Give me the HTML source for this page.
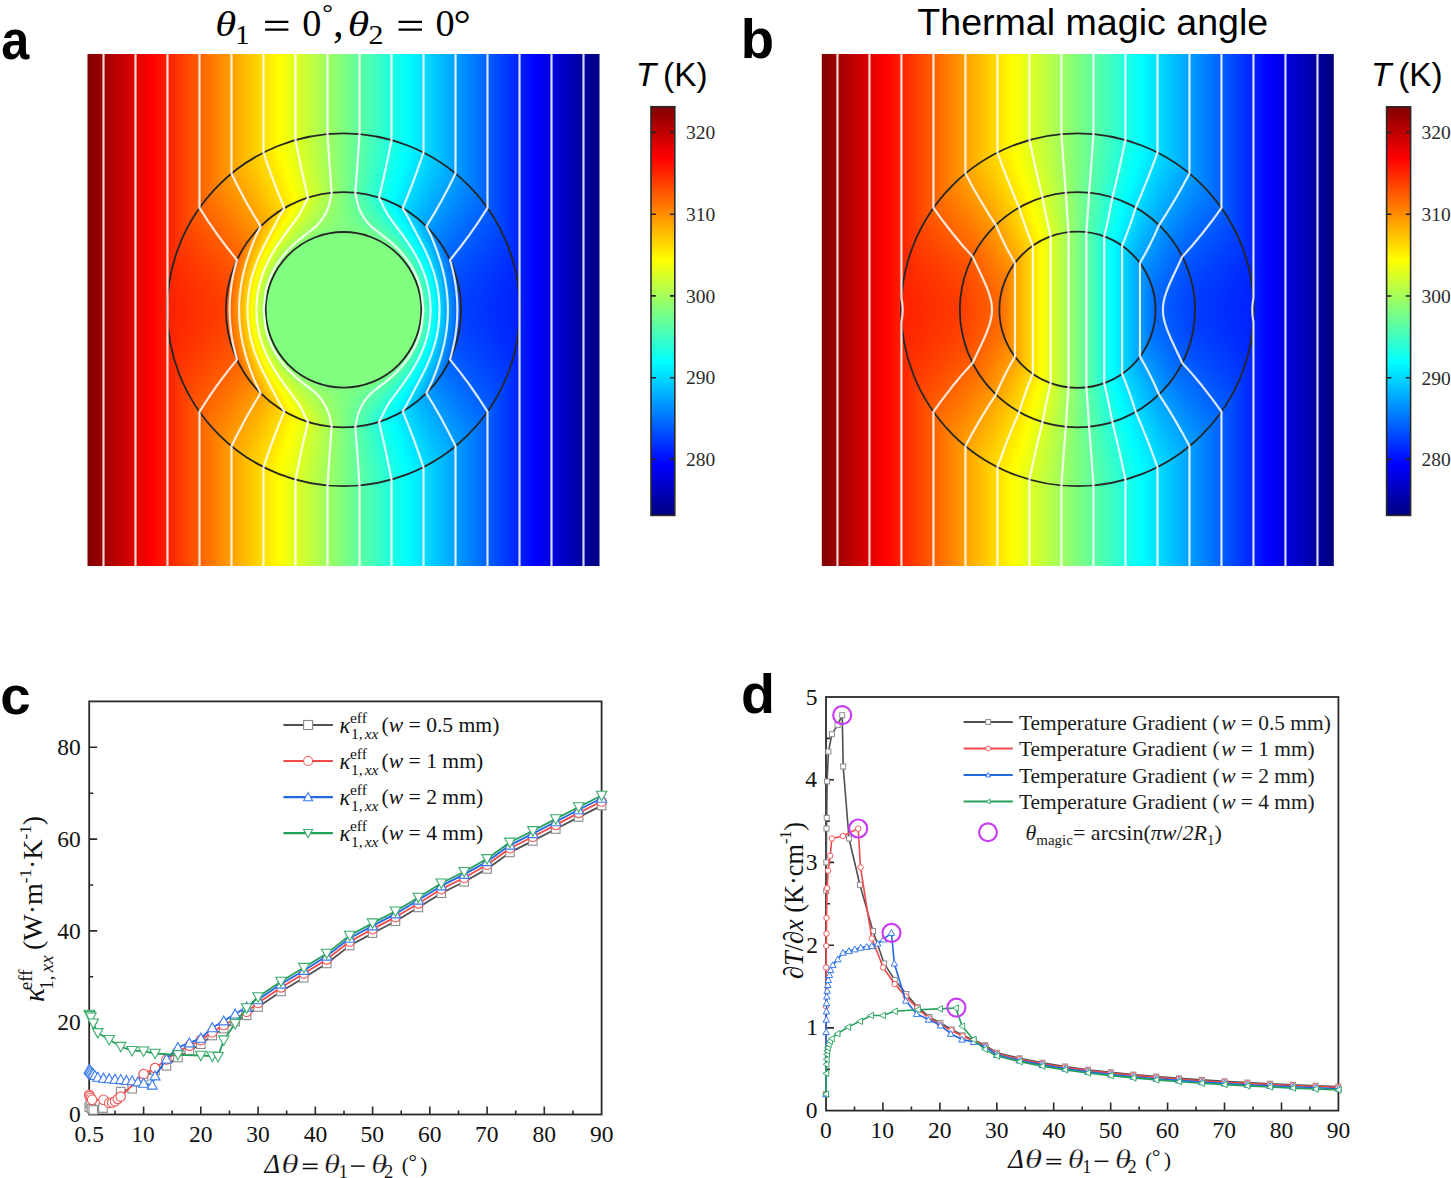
<!DOCTYPE html>
<html><head><meta charset="utf-8"><title>figure</title><style>
html,body{margin:0;padding:0;background:#fff;}
svg{display:block;}
</style></head>
<body><svg width="1451" height="1178" viewBox="0 0 1451 1178">
<defs><linearGradient id="Ja" gradientUnits="userSpaceOnUse" x1="87.5" y1="0" x2="599.5" y2="0"><stop offset="0" stop-color="#800000"/><stop offset="0.125" stop-color="#ff0000"/><stop offset="0.375" stop-color="#ffff00"/><stop offset="0.625" stop-color="#00ffff"/><stop offset="0.875" stop-color="#0000ff"/><stop offset="1" stop-color="#000080"/></linearGradient><linearGradient id="ga0" href="#Ja" x1="87.76" x2="599.24"/><linearGradient id="ga1" href="#Ja" x1="88.27" x2="598.73"/><linearGradient id="ga2" href="#Ja" x1="88.78" x2="598.22"/><linearGradient id="ga3" href="#Ja" x1="89.29" x2="597.71"/><linearGradient id="ga4" href="#Ja" x1="89.81" x2="597.19"/><linearGradient id="ga5" href="#Ja" x1="90.32" x2="596.68"/><linearGradient id="ga6" href="#Ja" x1="90.84" x2="596.16"/><linearGradient id="ga7" href="#Ja" x1="91.36" x2="595.64"/><linearGradient id="ga8" href="#Ja" x1="91.87" x2="595.13"/><linearGradient id="ga9" href="#Ja" x1="92.39" x2="594.61"/><linearGradient id="ga10" href="#Ja" x1="92.91" x2="594.09"/><linearGradient id="ga11" href="#Ja" x1="93.43" x2="593.57"/><linearGradient id="ga12" href="#Ja" x1="93.95" x2="593.05"/><linearGradient id="ga13" href="#Ja" x1="94.48" x2="592.52"/><linearGradient id="ga14" href="#Ja" x1="95.00" x2="592.00"/><linearGradient id="ga15" href="#Ja" x1="95.52" x2="591.48"/><linearGradient id="ga16" href="#Ja" x1="96.05" x2="590.95"/><linearGradient id="ga17" href="#Ja" x1="96.57" x2="590.43"/><linearGradient id="ga18" href="#Ja" x1="97.10" x2="589.90"/><linearGradient id="ga19" href="#Ja" x1="97.63" x2="589.37"/><linearGradient id="ga20" href="#Ja" x1="98.16" x2="588.84"/><linearGradient id="ga21" href="#Ja" x1="98.69" x2="588.31"/><linearGradient id="ga22" href="#Ja" x1="99.22" x2="587.78"/><linearGradient id="ga23" href="#Ja" x1="99.75" x2="587.25"/><linearGradient id="ga24" href="#Ja" x1="100.28" x2="586.72"/><linearGradient id="ga25" href="#Ja" x1="100.81" x2="586.19"/><linearGradient id="ga26" href="#Ja" x1="101.35" x2="585.65"/><linearGradient id="ga27" href="#Ja" x1="101.88" x2="585.12"/><linearGradient id="ga28" href="#Ja" x1="102.42" x2="584.58"/><linearGradient id="ga29" href="#Ja" x1="102.95" x2="584.05"/><linearGradient id="ga30" href="#Ja" x1="103.49" x2="583.51"/><linearGradient id="ga31" href="#Ja" x1="104.03" x2="582.97"/><linearGradient id="ga32" href="#Ja" x1="104.57" x2="582.43"/><linearGradient id="ga33" href="#Ja" x1="105.11" x2="581.89"/><linearGradient id="ga34" href="#Ja" x1="105.65" x2="581.35"/><linearGradient id="ga35" href="#Ja" x1="106.19" x2="580.81"/><linearGradient id="ga36" href="#Ja" x1="106.74" x2="580.26"/><linearGradient id="ga37" href="#Ja" x1="107.28" x2="579.72"/><linearGradient id="ga38" href="#Ja" x1="107.83" x2="579.17"/><linearGradient id="ga39" href="#Ja" x1="108.37" x2="578.63"/><linearGradient id="ga40" href="#Ja" x1="108.92" x2="578.08"/><linearGradient id="ga41" href="#Ja" x1="109.47" x2="577.53"/><linearGradient id="ga42" href="#Ja" x1="110.02" x2="576.98"/><linearGradient id="ga43" href="#Ja" x1="110.57" x2="576.43"/><linearGradient id="ga44" href="#Ja" x1="111.12" x2="575.88"/><linearGradient id="ga45" href="#Ja" x1="111.67" x2="575.33"/><linearGradient id="ga46" href="#Ja" x1="112.22" x2="574.78"/><linearGradient id="ga47" href="#Ja" x1="112.77" x2="574.23"/><linearGradient id="ga48" href="#Ja" x1="113.33" x2="573.67"/><linearGradient id="ga49" href="#Ja" x1="113.88" x2="573.12"/><linearGradient id="ga50" href="#Ja" x1="114.44" x2="572.56"/><linearGradient id="ga51" href="#Ja" x1="115.00" x2="572.00"/><linearGradient id="ga52" href="#Ja" x1="115.56" x2="571.44"/><linearGradient id="ga53" href="#Ja" x1="116.12" x2="570.88"/><linearGradient id="ga54" href="#Ja" x1="116.68" x2="570.32"/><linearGradient id="ga55" href="#Ja" x1="117.24" x2="569.76"/><linearGradient id="ga56" href="#Ja" x1="117.80" x2="569.20"/><linearGradient id="ga57" href="#Ja" x1="118.37" x2="568.63"/><linearGradient id="ga58" href="#Ja" x1="118.93" x2="568.07"/><linearGradient id="ga59" href="#Ja" x1="119.50" x2="567.50"/><linearGradient id="ga60" href="#Ja" x1="120.06" x2="566.94"/><linearGradient id="ga61" href="#Ja" x1="120.63" x2="566.37"/><linearGradient id="ga62" href="#Ja" x1="121.20" x2="565.80"/><linearGradient id="ga63" href="#Ja" x1="121.77" x2="565.23"/><linearGradient id="ga64" href="#Ja" x1="122.34" x2="564.66"/><linearGradient id="ga65" href="#Ja" x1="122.91" x2="564.09"/><linearGradient id="ga66" href="#Ja" x1="123.48" x2="563.52"/><linearGradient id="ga67" href="#Ja" x1="124.06" x2="562.94"/><linearGradient id="ga68" href="#Ja" x1="124.63" x2="562.37"/><linearGradient id="ga69" href="#Ja" x1="125.21" x2="561.79"/><linearGradient id="ga70" href="#Ja" x1="125.78" x2="561.22"/><linearGradient id="ga71" href="#Ja" x1="126.36" x2="560.64"/><linearGradient id="ga72" href="#Ja" x1="126.94" x2="560.06"/><linearGradient id="ga73" href="#Ja" x1="127.52" x2="559.48"/><linearGradient id="ga74" href="#Ja" x1="128.10" x2="558.90"/><linearGradient id="ga75" href="#Ja" x1="128.68" x2="558.32"/><linearGradient id="ga76" href="#Ja" x1="129.26" x2="557.74"/><linearGradient id="ga77" href="#Ja" x1="129.85" x2="557.15"/><linearGradient id="ga78" href="#Ja" x1="130.43" x2="556.57"/><linearGradient id="ga79" href="#Ja" x1="131.02" x2="555.98"/><linearGradient id="ga80" href="#Ja" x1="131.61" x2="555.39"/><linearGradient id="ga81" href="#Ja" x1="132.19" x2="554.81"/><linearGradient id="ga82" href="#Ja" x1="132.78" x2="554.22"/><linearGradient id="ga83" href="#Ja" x1="133.37" x2="553.63"/><linearGradient id="ga84" href="#Ja" x1="133.96" x2="553.04"/><linearGradient id="ga85" href="#Ja" x1="134.56" x2="552.44"/><linearGradient id="ga86" href="#Ja" x1="135.15" x2="551.85"/><linearGradient id="ga87" href="#Ja" x1="135.74" x2="551.26"/><linearGradient id="ga88" href="#Ja" x1="136.34" x2="550.66"/><linearGradient id="ga89" href="#Ja" x1="136.94" x2="550.06"/><linearGradient id="ga90" href="#Ja" x1="137.53" x2="549.47"/><linearGradient id="ga91" href="#Ja" x1="138.13" x2="548.87"/><linearGradient id="ga92" href="#Ja" x1="138.73" x2="548.27"/><linearGradient id="ga93" href="#Ja" x1="139.33" x2="547.67"/><linearGradient id="ga94" href="#Ja" x1="139.94" x2="547.06"/><linearGradient id="ga95" href="#Ja" x1="140.54" x2="546.46"/><linearGradient id="ga96" href="#Ja" x1="141.14" x2="545.86"/><linearGradient id="ga97" href="#Ja" x1="141.75" x2="545.25"/><linearGradient id="ga98" href="#Ja" x1="142.36" x2="544.64"/><linearGradient id="ga99" href="#Ja" x1="142.96" x2="544.04"/><linearGradient id="ga100" href="#Ja" x1="143.57" x2="543.43"/><linearGradient id="ga101" href="#Ja" x1="144.18" x2="542.82"/><linearGradient id="ga102" href="#Ja" x1="144.79" x2="542.21"/><linearGradient id="ga103" href="#Ja" x1="145.40" x2="541.60"/><linearGradient id="ga104" href="#Ja" x1="146.02" x2="540.98"/><linearGradient id="ga105" href="#Ja" x1="146.63" x2="540.37"/><linearGradient id="ga106" href="#Ja" x1="147.25" x2="539.75"/><linearGradient id="ga107" href="#Ja" x1="147.86" x2="539.14"/><linearGradient id="ga108" href="#Ja" x1="148.48" x2="538.52"/><linearGradient id="ga109" href="#Ja" x1="149.10" x2="537.90"/><linearGradient id="ga110" href="#Ja" x1="149.72" x2="537.28"/><linearGradient id="ga111" href="#Ja" x1="150.34" x2="536.66"/><linearGradient id="ga112" href="#Ja" x1="150.96" x2="536.04"/><linearGradient id="ga113" href="#Ja" x1="151.59" x2="535.41"/><linearGradient id="ga114" href="#Ja" x1="152.21" x2="534.79"/><linearGradient id="ga115" href="#Ja" x1="152.84" x2="534.16"/><linearGradient id="ga116" href="#Ja" x1="153.47" x2="533.53"/><linearGradient id="ga117" href="#Ja" x1="154.09" x2="532.91"/><linearGradient id="ga118" href="#Ja" x1="152.69" x2="534.31"/><linearGradient id="ga119" href="#Ja" x1="151.02" x2="535.98"/><linearGradient id="ga120" href="#Ja" x1="149.31" x2="537.69"/><linearGradient id="ga121" href="#Ja" x1="147.55" x2="539.45"/><linearGradient id="ga122" href="#Ja" x1="145.75" x2="541.25"/><linearGradient id="ga123" href="#Ja" x1="143.89" x2="543.11"/><linearGradient id="ga124" href="#Ja" x1="141.98" x2="545.02"/><linearGradient id="ga125" href="#Ja" x1="140.27" x2="546.73"/><linearGradient id="ga126" href="#Ja" x1="138.75" x2="548.25"/><linearGradient id="ga127" href="#Ja" x1="137.20" x2="549.80"/><linearGradient id="ga128" href="#Ja" x1="135.61" x2="551.39"/><linearGradient id="ga129" href="#Ja" x1="133.98" x2="553.02"/><linearGradient id="ga130" href="#Ja" x1="132.31" x2="554.69"/><linearGradient id="ga131" href="#Ja" x1="130.60" x2="556.40"/><linearGradient id="ga132" href="#Ja" x1="128.85" x2="558.15"/><linearGradient id="ga133" href="#Ja" x1="127.05" x2="559.95"/><linearGradient id="ga134" href="#Ja" x1="125.20" x2="561.80"/><linearGradient id="ga135" href="#Ja" x1="123.30" x2="563.70"/><linearGradient id="ga136" href="#Ja" x1="121.35" x2="565.65"/><linearGradient id="ga137" href="#Ja" x1="119.35" x2="567.65"/><linearGradient id="ga138" href="#Ja" x1="117.29" x2="569.71"/><linearGradient id="ga139" href="#Ja" x1="115.18" x2="571.82"/><linearGradient id="ga140" href="#Ja" x1="113.00" x2="574.00"/><linearGradient id="ga141" href="#Ja" x1="110.76" x2="576.24"/><linearGradient id="ga142" href="#Ja" x1="108.46" x2="578.54"/><linearGradient id="ga143" href="#Ja" x1="106.09" x2="580.91"/><linearGradient id="ga144" href="#Ja" x1="103.40" x2="583.60"/><linearGradient id="ga145" href="#Ja" x1="100.38" x2="586.62"/><linearGradient id="ga146" href="#Ja" x1="97.26" x2="589.74"/><linearGradient id="ga147" href="#Ja" x1="94.02" x2="592.98"/><linearGradient id="ga148" href="#Ja" x1="90.66" x2="596.34"/><linearGradient id="ga149" href="#Ja" x1="87.18" x2="599.82"/><linearGradient id="ga150" href="#Ja" x1="83.57" x2="603.43"/><linearGradient id="ga151" href="#Ja" x1="79.81" x2="607.19"/><linearGradient id="ga152" href="#Ja" x1="75.90" x2="611.10"/><linearGradient id="ga153" href="#Ja" x1="71.84" x2="615.16"/><linearGradient id="ga154" href="#Ja" x1="67.60" x2="619.40"/><linearGradient id="ga155" href="#Ja" x1="63.19" x2="623.81"/><linearGradient id="ga156" href="#Ja" x1="58.59" x2="628.41"/><linearGradient id="ga157" href="#Ja" x1="53.78" x2="633.22"/><linearGradient id="ga158" href="#Ja" x1="48.76" x2="638.24"/><linearGradient id="ga159" href="#Ja" x1="43.51" x2="643.49"/><linearGradient id="ga160" href="#Ja" x1="38.00" x2="649.00"/><linearGradient id="ga161" href="#Ja" x1="32.53" x2="654.47"/><linearGradient id="ga162" href="#Ja" x1="26.93" x2="660.07"/><linearGradient id="ga163" href="#Ja" x1="21.06" x2="665.94"/><linearGradient id="ga164" href="#Ja" x1="14.90" x2="672.10"/><linearGradient id="ga165" href="#Ja" x1="8.43" x2="678.57"/><linearGradient id="ga166" href="#Ja" x1="1.63" x2="685.37"/><linearGradient id="ga167" href="#Ja" x1="-5.53" x2="692.53"/><linearGradient id="ga168" href="#Ja" x1="-13.08" x2="700.08"/><linearGradient id="ga169" href="#Ja" x1="-21.05" x2="708.05"/><linearGradient id="ga170" href="#Ja" x1="-29.48" x2="716.48"/><linearGradient id="ga171" href="#Ja" x1="-38.41" x2="725.41"/><linearGradient id="ga172" href="#Ja" x1="-47.88" x2="734.88"/><linearGradient id="ga173" href="#Ja" x1="-57.95" x2="744.95"/><linearGradient id="ga174" href="#Ja" x1="-68.67" x2="755.67"/><linearGradient id="ga175" href="#Ja" x1="-80.12" x2="767.12"/><linearGradient id="ga176" href="#Ja" x1="-92.35" x2="779.35"/><linearGradient id="ga177" href="#Ja" x1="-105.47" x2="792.47"/><linearGradient id="ga178" href="#Ja" x1="-119.57" x2="806.57"/><linearGradient id="ga179" href="#Ja" x1="-138.73" x2="825.73"/><linearGradient id="ga180" href="#Ja" x1="-160.28" x2="847.28"/><linearGradient id="ga181" href="#Ja" x1="-184.14" x2="871.14"/><linearGradient id="ga182" href="#Ja" x1="-210.70" x2="897.70"/><linearGradient id="ga183" href="#Ja" x1="-240.43" x2="927.43"/><linearGradient id="ga184" href="#Ja" x1="-273.96" x2="960.96"/><linearGradient id="ga185" href="#Ja" x1="-312.04" x2="999.04"/><linearGradient id="ga186" href="#Ja" x1="-355.69" x2="1042.69"/><linearGradient id="ga187" href="#Ja" x1="-406.21" x2="1093.21"/><linearGradient id="ga188" href="#Ja" x1="-465.36" x2="1152.36"/><linearGradient id="ga189" href="#Ja" x1="-535.57" x2="1222.57"/><linearGradient id="ga190" href="#Ja" x1="-620.26" x2="1307.26"/><linearGradient id="ga191" href="#Ja" x1="-724.42" x2="1411.42"/><linearGradient id="ga192" href="#Ja" x1="-855.63" x2="1542.63"/><linearGradient id="ga193" href="#Ja" x1="-1103.12" x2="1790.12"/><linearGradient id="ga194" href="#Ja" x1="-1626.46" x2="2313.46"/><linearGradient id="ga195" href="#Ja" x1="-2765.49" x2="3452.49"/><linearGradient id="ga196" href="#Ja" x1="-7158.90" x2="7845.90"/><linearGradient id="ga197" href="#Ja" x1="-63656.50" x2="64343.50"/><linearGradient id="Jb" gradientUnits="userSpaceOnUse" x1="821.45" y1="0" x2="1333.45" y2="0"><stop offset="0" stop-color="#800000"/><stop offset="0.125" stop-color="#ff0000"/><stop offset="0.375" stop-color="#ffff00"/><stop offset="0.625" stop-color="#00ffff"/><stop offset="0.875" stop-color="#0000ff"/><stop offset="1" stop-color="#000080"/></linearGradient><linearGradient id="gb0" href="#Jb" x1="821.72" x2="1333.18"/><linearGradient id="gb1" href="#Jb" x1="822.26" x2="1332.64"/><linearGradient id="gb2" href="#Jb" x1="822.81" x2="1332.09"/><linearGradient id="gb3" href="#Jb" x1="823.35" x2="1331.55"/><linearGradient id="gb4" href="#Jb" x1="823.90" x2="1331.00"/><linearGradient id="gb5" href="#Jb" x1="824.44" x2="1330.46"/><linearGradient id="gb6" href="#Jb" x1="824.99" x2="1329.91"/><linearGradient id="gb7" href="#Jb" x1="825.54" x2="1329.36"/><linearGradient id="gb8" href="#Jb" x1="826.08" x2="1328.82"/><linearGradient id="gb9" href="#Jb" x1="826.63" x2="1328.27"/><linearGradient id="gb10" href="#Jb" x1="827.18" x2="1327.72"/><linearGradient id="gb11" href="#Jb" x1="827.73" x2="1327.17"/><linearGradient id="gb12" href="#Jb" x1="828.28" x2="1326.62"/><linearGradient id="gb13" href="#Jb" x1="828.84" x2="1326.06"/><linearGradient id="gb14" href="#Jb" x1="829.39" x2="1325.51"/><linearGradient id="gb15" href="#Jb" x1="829.94" x2="1324.96"/><linearGradient id="gb16" href="#Jb" x1="830.50" x2="1324.40"/><linearGradient id="gb17" href="#Jb" x1="831.05" x2="1323.85"/><linearGradient id="gb18" href="#Jb" x1="831.61" x2="1323.29"/><linearGradient id="gb19" href="#Jb" x1="832.16" x2="1322.74"/><linearGradient id="gb20" href="#Jb" x1="832.72" x2="1322.18"/><linearGradient id="gb21" href="#Jb" x1="833.28" x2="1321.62"/><linearGradient id="gb22" href="#Jb" x1="833.84" x2="1321.06"/><linearGradient id="gb23" href="#Jb" x1="834.40" x2="1320.50"/><linearGradient id="gb24" href="#Jb" x1="834.96" x2="1319.94"/><linearGradient id="gb25" href="#Jb" x1="835.52" x2="1319.38"/><linearGradient id="gb26" href="#Jb" x1="836.08" x2="1318.82"/><linearGradient id="gb27" href="#Jb" x1="836.65" x2="1318.25"/><linearGradient id="gb28" href="#Jb" x1="837.21" x2="1317.69"/><linearGradient id="gb29" href="#Jb" x1="837.78" x2="1317.12"/><linearGradient id="gb30" href="#Jb" x1="838.34" x2="1316.56"/><linearGradient id="gb31" href="#Jb" x1="838.91" x2="1315.99"/><linearGradient id="gb32" href="#Jb" x1="839.48" x2="1315.42"/><linearGradient id="gb33" href="#Jb" x1="840.05" x2="1314.85"/><linearGradient id="gb34" href="#Jb" x1="840.62" x2="1314.28"/><linearGradient id="gb35" href="#Jb" x1="841.19" x2="1313.71"/><linearGradient id="gb36" href="#Jb" x1="841.76" x2="1313.14"/><linearGradient id="gb37" href="#Jb" x1="842.33" x2="1312.57"/><linearGradient id="gb38" href="#Jb" x1="842.90" x2="1312.00"/><linearGradient id="gb39" href="#Jb" x1="843.47" x2="1311.43"/><linearGradient id="gb40" href="#Jb" x1="844.05" x2="1310.85"/><linearGradient id="gb41" href="#Jb" x1="844.62" x2="1310.28"/><linearGradient id="gb42" href="#Jb" x1="845.20" x2="1309.70"/><linearGradient id="gb43" href="#Jb" x1="845.78" x2="1309.12"/><linearGradient id="gb44" href="#Jb" x1="846.35" x2="1308.55"/><linearGradient id="gb45" href="#Jb" x1="846.93" x2="1307.97"/><linearGradient id="gb46" href="#Jb" x1="847.51" x2="1307.39"/><linearGradient id="gb47" href="#Jb" x1="848.09" x2="1306.81"/><linearGradient id="gb48" href="#Jb" x1="848.67" x2="1306.23"/><linearGradient id="gb49" href="#Jb" x1="849.26" x2="1305.64"/><linearGradient id="gb50" href="#Jb" x1="849.84" x2="1305.06"/><linearGradient id="gb51" href="#Jb" x1="850.42" x2="1304.48"/><linearGradient id="gb52" href="#Jb" x1="851.01" x2="1303.89"/><linearGradient id="gb53" href="#Jb" x1="851.59" x2="1303.31"/><linearGradient id="gb54" href="#Jb" x1="852.18" x2="1302.72"/><linearGradient id="gb55" href="#Jb" x1="852.77" x2="1302.13"/><linearGradient id="gb56" href="#Jb" x1="853.35" x2="1301.55"/><linearGradient id="gb57" href="#Jb" x1="853.94" x2="1300.96"/><linearGradient id="gb58" href="#Jb" x1="854.53" x2="1300.37"/><linearGradient id="gb59" href="#Jb" x1="855.12" x2="1299.78"/><linearGradient id="gb60" href="#Jb" x1="855.71" x2="1299.19"/><linearGradient id="gb61" href="#Jb" x1="856.31" x2="1298.59"/><linearGradient id="gb62" href="#Jb" x1="856.90" x2="1298.00"/><linearGradient id="gb63" href="#Jb" x1="857.50" x2="1297.40"/><linearGradient id="gb64" href="#Jb" x1="858.09" x2="1296.81"/><linearGradient id="gb65" href="#Jb" x1="858.69" x2="1296.21"/><linearGradient id="gb66" href="#Jb" x1="859.28" x2="1295.62"/><linearGradient id="gb67" href="#Jb" x1="859.88" x2="1295.02"/><linearGradient id="gb68" href="#Jb" x1="860.48" x2="1294.42"/><linearGradient id="gb69" href="#Jb" x1="861.08" x2="1293.82"/><linearGradient id="gb70" href="#Jb" x1="861.68" x2="1293.22"/><linearGradient id="gb71" href="#Jb" x1="862.28" x2="1292.62"/><linearGradient id="gb72" href="#Jb" x1="862.88" x2="1292.02"/><linearGradient id="gb73" href="#Jb" x1="863.49" x2="1291.41"/><linearGradient id="gb74" href="#Jb" x1="864.09" x2="1290.81"/><linearGradient id="gb75" href="#Jb" x1="864.70" x2="1290.20"/><linearGradient id="gb76" href="#Jb" x1="865.30" x2="1289.60"/><linearGradient id="gb77" href="#Jb" x1="865.91" x2="1288.99"/><linearGradient id="gb78" href="#Jb" x1="866.52" x2="1288.38"/><linearGradient id="gb79" href="#Jb" x1="867.13" x2="1287.77"/><linearGradient id="gb80" href="#Jb" x1="867.74" x2="1287.16"/><linearGradient id="gb81" href="#Jb" x1="868.35" x2="1286.55"/><linearGradient id="gb82" href="#Jb" x1="868.96" x2="1285.94"/><linearGradient id="gb83" href="#Jb" x1="869.57" x2="1285.33"/><linearGradient id="gb84" href="#Jb" x1="870.19" x2="1284.71"/><linearGradient id="gb85" href="#Jb" x1="870.80" x2="1284.10"/><linearGradient id="gb86" href="#Jb" x1="871.42" x2="1283.48"/><linearGradient id="gb87" href="#Jb" x1="872.03" x2="1282.87"/><linearGradient id="gb88" href="#Jb" x1="872.65" x2="1282.25"/><linearGradient id="gb89" href="#Jb" x1="873.27" x2="1281.63"/><linearGradient id="gb90" href="#Jb" x1="873.89" x2="1281.01"/><linearGradient id="gb91" href="#Jb" x1="874.51" x2="1280.39"/><linearGradient id="gb92" href="#Jb" x1="875.13" x2="1279.77"/><linearGradient id="gb93" href="#Jb" x1="875.75" x2="1279.15"/><linearGradient id="gb94" href="#Jb" x1="876.37" x2="1278.53"/><linearGradient id="gb95" href="#Jb" x1="877.00" x2="1277.90"/><linearGradient id="gb96" href="#Jb" x1="877.62" x2="1277.28"/><linearGradient id="gb97" href="#Jb" x1="878.25" x2="1276.65"/><linearGradient id="gb98" href="#Jb" x1="878.88" x2="1276.02"/><linearGradient id="gb99" href="#Jb" x1="879.50" x2="1275.40"/><linearGradient id="gb100" href="#Jb" x1="880.13" x2="1274.77"/><linearGradient id="gb101" href="#Jb" x1="880.76" x2="1274.14"/><linearGradient id="gb102" href="#Jb" x1="881.39" x2="1273.51"/><linearGradient id="gb103" href="#Jb" x1="882.02" x2="1272.88"/><linearGradient id="gb104" href="#Jb" x1="882.66" x2="1272.24"/><linearGradient id="gb105" href="#Jb" x1="883.29" x2="1271.61"/><linearGradient id="gb106" href="#Jb" x1="883.93" x2="1270.97"/><linearGradient id="gb107" href="#Jb" x1="884.56" x2="1270.34"/><linearGradient id="gb108" href="#Jb" x1="885.20" x2="1269.70"/><linearGradient id="gb109" href="#Jb" x1="885.84" x2="1269.06"/><linearGradient id="gb110" href="#Jb" x1="886.47" x2="1268.43"/><linearGradient id="gb111" href="#Jb" x1="887.11" x2="1267.79"/><linearGradient id="gb112" href="#Jb" x1="887.75" x2="1267.15"/><linearGradient id="gb113" href="#Jb" x1="888.40" x2="1266.50"/><linearGradient id="gb114" href="#Jb" x1="889.04" x2="1265.86"/><linearGradient id="gb115" href="#Jb" x1="889.68" x2="1265.22"/><linearGradient id="gb116" href="#Jb" x1="890.33" x2="1264.57"/><linearGradient id="gb117" href="#Jb" x1="890.97" x2="1263.93"/><linearGradient id="gb118" href="#Jb" x1="891.47" x2="1263.43"/><linearGradient id="gb119" href="#Jb" x1="891.95" x2="1262.95"/><linearGradient id="gb120" href="#Jb" x1="892.43" x2="1262.47"/><linearGradient id="gb121" href="#Jb" x1="892.92" x2="1261.98"/><linearGradient id="gb122" href="#Jb" x1="893.40" x2="1261.50"/><linearGradient id="gb123" href="#Jb" x1="893.89" x2="1261.01"/><linearGradient id="gb124" href="#Jb" x1="894.38" x2="1260.52"/><linearGradient id="gb125" href="#Jb" x1="894.87" x2="1260.03"/><linearGradient id="gb126" href="#Jb" x1="895.36" x2="1259.54"/><linearGradient id="gb127" href="#Jb" x1="895.85" x2="1259.05"/><linearGradient id="gb128" href="#Jb" x1="896.35" x2="1258.55"/><linearGradient id="gb129" href="#Jb" x1="896.85" x2="1258.05"/><linearGradient id="gb130" href="#Jb" x1="897.35" x2="1257.55"/><linearGradient id="gb131" href="#Jb" x1="897.85" x2="1257.05"/><linearGradient id="gb132" href="#Jb" x1="898.35" x2="1256.55"/><linearGradient id="gb133" href="#Jb" x1="898.85" x2="1256.05"/><linearGradient id="gb134" href="#Jb" x1="899.36" x2="1255.54"/><linearGradient id="gb135" href="#Jb" x1="899.87" x2="1255.03"/><linearGradient id="gb136" href="#Jb" x1="900.38" x2="1254.52"/><linearGradient id="gb137" href="#Jb" x1="900.89" x2="1254.01"/><linearGradient id="gb138" href="#Jb" x1="901.40" x2="1253.50"/><linearGradient id="gb139" href="#Jb" x1="901.92" x2="1252.98"/><linearGradient id="gb140" href="#Jb" x1="902.43" x2="1252.47"/><linearGradient id="gb141" href="#Jb" x1="902.95" x2="1251.95"/><linearGradient id="gb142" href="#Jb" x1="903.47" x2="1251.43"/><linearGradient id="gb143" href="#Jb" x1="903.99" x2="1250.91"/><linearGradient id="gb144" href="#Jb" x1="904.52" x2="1250.38"/><linearGradient id="gb145" href="#Jb" x1="905.04" x2="1249.86"/><linearGradient id="gb146" href="#Jb" x1="905.57" x2="1249.33"/><linearGradient id="gb147" href="#Jb" x1="906.10" x2="1248.80"/><linearGradient id="gb148" href="#Jb" x1="906.63" x2="1248.27"/><linearGradient id="gb149" href="#Jb" x1="907.17" x2="1247.73"/><linearGradient id="gb150" href="#Jb" x1="907.70" x2="1247.20"/><linearGradient id="gb151" href="#Jb" x1="908.24" x2="1246.66"/><linearGradient id="gb152" href="#Jb" x1="908.78" x2="1246.12"/><linearGradient id="gb153" href="#Jb" x1="909.32" x2="1245.58"/><linearGradient id="gb154" href="#Jb" x1="909.86" x2="1245.04"/><linearGradient id="gb155" href="#Jb" x1="910.41" x2="1244.49"/><linearGradient id="gb156" href="#Jb" x1="910.95" x2="1243.95"/><linearGradient id="gb157" href="#Jb" x1="911.50" x2="1243.40"/><linearGradient id="gb158" href="#Jb" x1="912.05" x2="1242.85"/><linearGradient id="gb159" href="#Jb" x1="912.61" x2="1242.29"/><linearGradient id="gb160" href="#Jb" x1="913.16" x2="1241.74"/><linearGradient id="gb161" href="#Jb" x1="913.72" x2="1241.18"/><linearGradient id="gb162" href="#Jb" x1="914.28" x2="1240.62"/><linearGradient id="gb163" href="#Jb" x1="914.84" x2="1240.06"/><linearGradient id="gb164" href="#Jb" x1="915.40" x2="1239.50"/><linearGradient id="gb165" href="#Jb" x1="915.97" x2="1238.93"/><linearGradient id="gb166" href="#Jb" x1="916.53" x2="1238.37"/><linearGradient id="gb167" href="#Jb" x1="917.10" x2="1237.80"/><linearGradient id="gb168" href="#Jb" x1="917.67" x2="1237.23"/><linearGradient id="gb169" href="#Jb" x1="918.25" x2="1236.65"/><linearGradient id="gb170" href="#Jb" x1="918.82" x2="1236.08"/><linearGradient id="gb171" href="#Jb" x1="919.40" x2="1235.50"/><linearGradient id="gb172" href="#Jb" x1="919.98" x2="1234.92"/><linearGradient id="gb173" href="#Jb" x1="920.56" x2="1234.34"/><linearGradient id="gb174" href="#Jb" x1="921.15" x2="1233.75"/><linearGradient id="gb175" href="#Jb" x1="921.73" x2="1233.17"/><linearGradient id="gb176" href="#Jb" x1="922.32" x2="1232.58"/><linearGradient id="gb177" href="#Jb" x1="922.91" x2="1231.99"/><linearGradient id="gb178" href="#Jb" x1="923.51" x2="1231.39"/><linearGradient id="gb179" href="#Jb" x1="924.10" x2="1230.80"/><linearGradient id="gb180" href="#Jb" x1="924.70" x2="1230.20"/><linearGradient id="gb181" href="#Jb" x1="925.30" x2="1229.60"/><linearGradient id="gb182" href="#Jb" x1="925.90" x2="1229.00"/><linearGradient id="gb183" href="#Jb" x1="926.51" x2="1228.39"/><linearGradient id="gb184" href="#Jb" x1="927.11" x2="1227.79"/><linearGradient id="gb185" href="#Jb" x1="927.72" x2="1227.18"/><linearGradient id="gb186" href="#Jb" x1="928.33" x2="1226.57"/><linearGradient id="gb187" href="#Jb" x1="928.95" x2="1225.95"/><linearGradient id="gb188" href="#Jb" x1="929.56" x2="1225.34"/><linearGradient id="gb189" href="#Jb" x1="930.18" x2="1224.72"/><linearGradient id="gb190" href="#Jb" x1="930.80" x2="1224.10"/><linearGradient id="gb191" href="#Jb" x1="931.42" x2="1223.48"/><linearGradient id="gb192" href="#Jb" x1="932.05" x2="1222.85"/><linearGradient id="gb193" href="#Jb" x1="932.68" x2="1222.22"/><linearGradient id="gb194" href="#Jb" x1="933.31" x2="1221.59"/><linearGradient id="gb195" href="#Jb" x1="933.94" x2="1220.96"/><linearGradient id="gb196" href="#Jb" x1="934.57" x2="1220.33"/><linearGradient id="gbin" href="#Jb" x1="934.64" x2="1220.26"/><linearGradient id="cba" x1="0" y1="0" x2="0" y2="1"><stop offset="0" stop-color="#800000"/><stop offset="0.125" stop-color="#ff0000"/><stop offset="0.375" stop-color="#ffff00"/><stop offset="0.625" stop-color="#00ffff"/><stop offset="0.875" stop-color="#0000ff"/><stop offset="1" stop-color="#000080"/></linearGradient><linearGradient id="cbb" x1="0" y1="0" x2="0" y2="1"><stop offset="0" stop-color="#800000"/><stop offset="0.125" stop-color="#ff0000"/><stop offset="0.375" stop-color="#ffff00"/><stop offset="0.625" stop-color="#00ffff"/><stop offset="0.875" stop-color="#0000ff"/><stop offset="1" stop-color="#000080"/></linearGradient></defs>
<rect width="1451" height="1178" fill="#fff"/>
<rect x="87.5" y="54" width="512" height="512" fill="url(#Ja)"/>
<circle cx="343.5" cy="309.8" r="176.40" fill="url(#ga0)"/>
<circle cx="343.5" cy="309.8" r="175.90" fill="url(#ga1)"/>
<circle cx="343.5" cy="309.8" r="175.40" fill="url(#ga2)"/>
<circle cx="343.5" cy="309.8" r="174.90" fill="url(#ga3)"/>
<circle cx="343.5" cy="309.8" r="174.40" fill="url(#ga4)"/>
<circle cx="343.5" cy="309.8" r="173.90" fill="url(#ga5)"/>
<circle cx="343.5" cy="309.8" r="173.40" fill="url(#ga6)"/>
<circle cx="343.5" cy="309.8" r="172.90" fill="url(#ga7)"/>
<circle cx="343.5" cy="309.8" r="172.40" fill="url(#ga8)"/>
<circle cx="343.5" cy="309.8" r="171.90" fill="url(#ga9)"/>
<circle cx="343.5" cy="309.8" r="171.40" fill="url(#ga10)"/>
<circle cx="343.5" cy="309.8" r="170.90" fill="url(#ga11)"/>
<circle cx="343.5" cy="309.8" r="170.40" fill="url(#ga12)"/>
<circle cx="343.5" cy="309.8" r="169.90" fill="url(#ga13)"/>
<circle cx="343.5" cy="309.8" r="169.40" fill="url(#ga14)"/>
<circle cx="343.5" cy="309.8" r="168.90" fill="url(#ga15)"/>
<circle cx="343.5" cy="309.8" r="168.40" fill="url(#ga16)"/>
<circle cx="343.5" cy="309.8" r="167.90" fill="url(#ga17)"/>
<circle cx="343.5" cy="309.8" r="167.40" fill="url(#ga18)"/>
<circle cx="343.5" cy="309.8" r="166.90" fill="url(#ga19)"/>
<circle cx="343.5" cy="309.8" r="166.40" fill="url(#ga20)"/>
<circle cx="343.5" cy="309.8" r="165.90" fill="url(#ga21)"/>
<circle cx="343.5" cy="309.8" r="165.40" fill="url(#ga22)"/>
<circle cx="343.5" cy="309.8" r="164.90" fill="url(#ga23)"/>
<circle cx="343.5" cy="309.8" r="164.40" fill="url(#ga24)"/>
<circle cx="343.5" cy="309.8" r="163.90" fill="url(#ga25)"/>
<circle cx="343.5" cy="309.8" r="163.40" fill="url(#ga26)"/>
<circle cx="343.5" cy="309.8" r="162.90" fill="url(#ga27)"/>
<circle cx="343.5" cy="309.8" r="162.40" fill="url(#ga28)"/>
<circle cx="343.5" cy="309.8" r="161.90" fill="url(#ga29)"/>
<circle cx="343.5" cy="309.8" r="161.40" fill="url(#ga30)"/>
<circle cx="343.5" cy="309.8" r="160.90" fill="url(#ga31)"/>
<circle cx="343.5" cy="309.8" r="160.40" fill="url(#ga32)"/>
<circle cx="343.5" cy="309.8" r="159.90" fill="url(#ga33)"/>
<circle cx="343.5" cy="309.8" r="159.40" fill="url(#ga34)"/>
<circle cx="343.5" cy="309.8" r="158.90" fill="url(#ga35)"/>
<circle cx="343.5" cy="309.8" r="158.40" fill="url(#ga36)"/>
<circle cx="343.5" cy="309.8" r="157.90" fill="url(#ga37)"/>
<circle cx="343.5" cy="309.8" r="157.40" fill="url(#ga38)"/>
<circle cx="343.5" cy="309.8" r="156.90" fill="url(#ga39)"/>
<circle cx="343.5" cy="309.8" r="156.40" fill="url(#ga40)"/>
<circle cx="343.5" cy="309.8" r="155.90" fill="url(#ga41)"/>
<circle cx="343.5" cy="309.8" r="155.40" fill="url(#ga42)"/>
<circle cx="343.5" cy="309.8" r="154.90" fill="url(#ga43)"/>
<circle cx="343.5" cy="309.8" r="154.40" fill="url(#ga44)"/>
<circle cx="343.5" cy="309.8" r="153.90" fill="url(#ga45)"/>
<circle cx="343.5" cy="309.8" r="153.40" fill="url(#ga46)"/>
<circle cx="343.5" cy="309.8" r="152.90" fill="url(#ga47)"/>
<circle cx="343.5" cy="309.8" r="152.40" fill="url(#ga48)"/>
<circle cx="343.5" cy="309.8" r="151.90" fill="url(#ga49)"/>
<circle cx="343.5" cy="309.8" r="151.40" fill="url(#ga50)"/>
<circle cx="343.5" cy="309.8" r="150.90" fill="url(#ga51)"/>
<circle cx="343.5" cy="309.8" r="150.40" fill="url(#ga52)"/>
<circle cx="343.5" cy="309.8" r="149.90" fill="url(#ga53)"/>
<circle cx="343.5" cy="309.8" r="149.40" fill="url(#ga54)"/>
<circle cx="343.5" cy="309.8" r="148.90" fill="url(#ga55)"/>
<circle cx="343.5" cy="309.8" r="148.40" fill="url(#ga56)"/>
<circle cx="343.5" cy="309.8" r="147.90" fill="url(#ga57)"/>
<circle cx="343.5" cy="309.8" r="147.40" fill="url(#ga58)"/>
<circle cx="343.5" cy="309.8" r="146.90" fill="url(#ga59)"/>
<circle cx="343.5" cy="309.8" r="146.40" fill="url(#ga60)"/>
<circle cx="343.5" cy="309.8" r="145.90" fill="url(#ga61)"/>
<circle cx="343.5" cy="309.8" r="145.40" fill="url(#ga62)"/>
<circle cx="343.5" cy="309.8" r="144.90" fill="url(#ga63)"/>
<circle cx="343.5" cy="309.8" r="144.40" fill="url(#ga64)"/>
<circle cx="343.5" cy="309.8" r="143.90" fill="url(#ga65)"/>
<circle cx="343.5" cy="309.8" r="143.40" fill="url(#ga66)"/>
<circle cx="343.5" cy="309.8" r="142.90" fill="url(#ga67)"/>
<circle cx="343.5" cy="309.8" r="142.40" fill="url(#ga68)"/>
<circle cx="343.5" cy="309.8" r="141.90" fill="url(#ga69)"/>
<circle cx="343.5" cy="309.8" r="141.40" fill="url(#ga70)"/>
<circle cx="343.5" cy="309.8" r="140.90" fill="url(#ga71)"/>
<circle cx="343.5" cy="309.8" r="140.40" fill="url(#ga72)"/>
<circle cx="343.5" cy="309.8" r="139.90" fill="url(#ga73)"/>
<circle cx="343.5" cy="309.8" r="139.40" fill="url(#ga74)"/>
<circle cx="343.5" cy="309.8" r="138.90" fill="url(#ga75)"/>
<circle cx="343.5" cy="309.8" r="138.40" fill="url(#ga76)"/>
<circle cx="343.5" cy="309.8" r="137.90" fill="url(#ga77)"/>
<circle cx="343.5" cy="309.8" r="137.40" fill="url(#ga78)"/>
<circle cx="343.5" cy="309.8" r="136.90" fill="url(#ga79)"/>
<circle cx="343.5" cy="309.8" r="136.40" fill="url(#ga80)"/>
<circle cx="343.5" cy="309.8" r="135.90" fill="url(#ga81)"/>
<circle cx="343.5" cy="309.8" r="135.40" fill="url(#ga82)"/>
<circle cx="343.5" cy="309.8" r="134.90" fill="url(#ga83)"/>
<circle cx="343.5" cy="309.8" r="134.40" fill="url(#ga84)"/>
<circle cx="343.5" cy="309.8" r="133.90" fill="url(#ga85)"/>
<circle cx="343.5" cy="309.8" r="133.40" fill="url(#ga86)"/>
<circle cx="343.5" cy="309.8" r="132.90" fill="url(#ga87)"/>
<circle cx="343.5" cy="309.8" r="132.40" fill="url(#ga88)"/>
<circle cx="343.5" cy="309.8" r="131.90" fill="url(#ga89)"/>
<circle cx="343.5" cy="309.8" r="131.40" fill="url(#ga90)"/>
<circle cx="343.5" cy="309.8" r="130.90" fill="url(#ga91)"/>
<circle cx="343.5" cy="309.8" r="130.40" fill="url(#ga92)"/>
<circle cx="343.5" cy="309.8" r="129.90" fill="url(#ga93)"/>
<circle cx="343.5" cy="309.8" r="129.40" fill="url(#ga94)"/>
<circle cx="343.5" cy="309.8" r="128.90" fill="url(#ga95)"/>
<circle cx="343.5" cy="309.8" r="128.40" fill="url(#ga96)"/>
<circle cx="343.5" cy="309.8" r="127.90" fill="url(#ga97)"/>
<circle cx="343.5" cy="309.8" r="127.40" fill="url(#ga98)"/>
<circle cx="343.5" cy="309.8" r="126.90" fill="url(#ga99)"/>
<circle cx="343.5" cy="309.8" r="126.40" fill="url(#ga100)"/>
<circle cx="343.5" cy="309.8" r="125.90" fill="url(#ga101)"/>
<circle cx="343.5" cy="309.8" r="125.40" fill="url(#ga102)"/>
<circle cx="343.5" cy="309.8" r="124.90" fill="url(#ga103)"/>
<circle cx="343.5" cy="309.8" r="124.40" fill="url(#ga104)"/>
<circle cx="343.5" cy="309.8" r="123.90" fill="url(#ga105)"/>
<circle cx="343.5" cy="309.8" r="123.40" fill="url(#ga106)"/>
<circle cx="343.5" cy="309.8" r="122.90" fill="url(#ga107)"/>
<circle cx="343.5" cy="309.8" r="122.40" fill="url(#ga108)"/>
<circle cx="343.5" cy="309.8" r="121.90" fill="url(#ga109)"/>
<circle cx="343.5" cy="309.8" r="121.40" fill="url(#ga110)"/>
<circle cx="343.5" cy="309.8" r="120.90" fill="url(#ga111)"/>
<circle cx="343.5" cy="309.8" r="120.40" fill="url(#ga112)"/>
<circle cx="343.5" cy="309.8" r="119.90" fill="url(#ga113)"/>
<circle cx="343.5" cy="309.8" r="119.40" fill="url(#ga114)"/>
<circle cx="343.5" cy="309.8" r="118.90" fill="url(#ga115)"/>
<circle cx="343.5" cy="309.8" r="118.40" fill="url(#ga116)"/>
<circle cx="343.5" cy="309.8" r="117.90" fill="url(#ga117)"/>
<circle cx="343.5" cy="309.8" r="117.40" fill="url(#ga118)"/>
<circle cx="343.5" cy="309.8" r="116.90" fill="url(#ga119)"/>
<circle cx="343.5" cy="309.8" r="116.40" fill="url(#ga120)"/>
<circle cx="343.5" cy="309.8" r="115.90" fill="url(#ga121)"/>
<circle cx="343.5" cy="309.8" r="115.40" fill="url(#ga122)"/>
<circle cx="343.5" cy="309.8" r="114.90" fill="url(#ga123)"/>
<circle cx="343.5" cy="309.8" r="114.40" fill="url(#ga124)"/>
<circle cx="343.5" cy="309.8" r="113.90" fill="url(#ga125)"/>
<circle cx="343.5" cy="309.8" r="113.40" fill="url(#ga126)"/>
<circle cx="343.5" cy="309.8" r="112.90" fill="url(#ga127)"/>
<circle cx="343.5" cy="309.8" r="112.40" fill="url(#ga128)"/>
<circle cx="343.5" cy="309.8" r="111.90" fill="url(#ga129)"/>
<circle cx="343.5" cy="309.8" r="111.40" fill="url(#ga130)"/>
<circle cx="343.5" cy="309.8" r="110.90" fill="url(#ga131)"/>
<circle cx="343.5" cy="309.8" r="110.40" fill="url(#ga132)"/>
<circle cx="343.5" cy="309.8" r="109.90" fill="url(#ga133)"/>
<circle cx="343.5" cy="309.8" r="109.40" fill="url(#ga134)"/>
<circle cx="343.5" cy="309.8" r="108.90" fill="url(#ga135)"/>
<circle cx="343.5" cy="309.8" r="108.40" fill="url(#ga136)"/>
<circle cx="343.5" cy="309.8" r="107.90" fill="url(#ga137)"/>
<circle cx="343.5" cy="309.8" r="107.40" fill="url(#ga138)"/>
<circle cx="343.5" cy="309.8" r="106.90" fill="url(#ga139)"/>
<circle cx="343.5" cy="309.8" r="106.40" fill="url(#ga140)"/>
<circle cx="343.5" cy="309.8" r="105.90" fill="url(#ga141)"/>
<circle cx="343.5" cy="309.8" r="105.40" fill="url(#ga142)"/>
<circle cx="343.5" cy="309.8" r="104.90" fill="url(#ga143)"/>
<circle cx="343.5" cy="309.8" r="104.40" fill="url(#ga144)"/>
<circle cx="343.5" cy="309.8" r="103.90" fill="url(#ga145)"/>
<circle cx="343.5" cy="309.8" r="103.40" fill="url(#ga146)"/>
<circle cx="343.5" cy="309.8" r="102.90" fill="url(#ga147)"/>
<circle cx="343.5" cy="309.8" r="102.40" fill="url(#ga148)"/>
<circle cx="343.5" cy="309.8" r="101.90" fill="url(#ga149)"/>
<circle cx="343.5" cy="309.8" r="101.40" fill="url(#ga150)"/>
<circle cx="343.5" cy="309.8" r="100.90" fill="url(#ga151)"/>
<circle cx="343.5" cy="309.8" r="100.40" fill="url(#ga152)"/>
<circle cx="343.5" cy="309.8" r="99.90" fill="url(#ga153)"/>
<circle cx="343.5" cy="309.8" r="99.40" fill="url(#ga154)"/>
<circle cx="343.5" cy="309.8" r="98.90" fill="url(#ga155)"/>
<circle cx="343.5" cy="309.8" r="98.40" fill="url(#ga156)"/>
<circle cx="343.5" cy="309.8" r="97.90" fill="url(#ga157)"/>
<circle cx="343.5" cy="309.8" r="97.40" fill="url(#ga158)"/>
<circle cx="343.5" cy="309.8" r="96.90" fill="url(#ga159)"/>
<circle cx="343.5" cy="309.8" r="96.40" fill="url(#ga160)"/>
<circle cx="343.5" cy="309.8" r="95.90" fill="url(#ga161)"/>
<circle cx="343.5" cy="309.8" r="95.40" fill="url(#ga162)"/>
<circle cx="343.5" cy="309.8" r="94.90" fill="url(#ga163)"/>
<circle cx="343.5" cy="309.8" r="94.40" fill="url(#ga164)"/>
<circle cx="343.5" cy="309.8" r="93.90" fill="url(#ga165)"/>
<circle cx="343.5" cy="309.8" r="93.40" fill="url(#ga166)"/>
<circle cx="343.5" cy="309.8" r="92.90" fill="url(#ga167)"/>
<circle cx="343.5" cy="309.8" r="92.40" fill="url(#ga168)"/>
<circle cx="343.5" cy="309.8" r="91.90" fill="url(#ga169)"/>
<circle cx="343.5" cy="309.8" r="91.40" fill="url(#ga170)"/>
<circle cx="343.5" cy="309.8" r="90.90" fill="url(#ga171)"/>
<circle cx="343.5" cy="309.8" r="90.40" fill="url(#ga172)"/>
<circle cx="343.5" cy="309.8" r="89.90" fill="url(#ga173)"/>
<circle cx="343.5" cy="309.8" r="89.40" fill="url(#ga174)"/>
<circle cx="343.5" cy="309.8" r="88.90" fill="url(#ga175)"/>
<circle cx="343.5" cy="309.8" r="88.40" fill="url(#ga176)"/>
<circle cx="343.5" cy="309.8" r="87.90" fill="url(#ga177)"/>
<circle cx="343.5" cy="309.8" r="87.40" fill="url(#ga178)"/>
<circle cx="343.5" cy="309.8" r="86.90" fill="url(#ga179)"/>
<circle cx="343.5" cy="309.8" r="86.40" fill="url(#ga180)"/>
<circle cx="343.5" cy="309.8" r="85.90" fill="url(#ga181)"/>
<circle cx="343.5" cy="309.8" r="85.40" fill="url(#ga182)"/>
<circle cx="343.5" cy="309.8" r="84.90" fill="url(#ga183)"/>
<circle cx="343.5" cy="309.8" r="84.40" fill="url(#ga184)"/>
<circle cx="343.5" cy="309.8" r="83.90" fill="url(#ga185)"/>
<circle cx="343.5" cy="309.8" r="83.40" fill="url(#ga186)"/>
<circle cx="343.5" cy="309.8" r="82.90" fill="url(#ga187)"/>
<circle cx="343.5" cy="309.8" r="82.40" fill="url(#ga188)"/>
<circle cx="343.5" cy="309.8" r="81.90" fill="url(#ga189)"/>
<circle cx="343.5" cy="309.8" r="81.40" fill="url(#ga190)"/>
<circle cx="343.5" cy="309.8" r="80.90" fill="url(#ga191)"/>
<circle cx="343.5" cy="309.8" r="80.40" fill="url(#ga192)"/>
<circle cx="343.5" cy="309.8" r="79.90" fill="url(#ga193)"/>
<circle cx="343.5" cy="309.8" r="79.40" fill="url(#ga194)"/>
<circle cx="343.5" cy="309.8" r="78.90" fill="url(#ga195)"/>
<circle cx="343.5" cy="309.8" r="78.40" fill="url(#ga196)"/>
<circle cx="343.5" cy="309.8" r="77.90" fill="url(#ga197)"/>
<circle cx="343.5" cy="309.8" r="77.8" fill="#80ff80"/>
<circle cx="343.5" cy="309.8" r="77.8" fill="none" stroke="#262626" stroke-width="1.8"/>
<circle cx="343.5" cy="309.8" r="117.6" fill="none" stroke="#262626" stroke-width="1.8"/>
<circle cx="343.5" cy="309.8" r="176.4" fill="none" stroke="#262626" stroke-width="1.8"/>
<path d="M103.50 54.0V566.0" fill="none" stroke="#ffffff" stroke-opacity="0.85" stroke-width="2.2" stroke-linejoin="round"/>
<path d="M135.50 54.0V566.0" fill="none" stroke="#ffffff" stroke-opacity="0.85" stroke-width="2.2" stroke-linejoin="round"/>
<path d="M167.50 54.0V566.0" fill="none" stroke="#ffffff" stroke-opacity="0.85" stroke-width="2.2" stroke-linejoin="round"/>
<path d="M199.50 54.00 L199.50 207.91 L208.53 221.85 L217.78 235.17 L227.21 247.77 L236.99 259.94 L235.33 266.01 L233.78 272.47 L232.57 278.35 L231.54 284.44 L230.69 290.80 L230.04 297.74 L229.82 301.26 L229.60 309.80 L229.82 318.34 L230.04 321.86 L230.69 328.80 L231.54 335.16 L232.57 341.25 L233.78 347.13 L235.33 353.59 L236.99 359.66 L227.21 371.83 L217.78 384.43 L208.53 397.75 L199.50 411.69 L199.50 566.00" fill="none" stroke="#ffffff" stroke-opacity="0.85" stroke-width="2.2" stroke-linejoin="round"/>
<path d="M231.50 54.00 L231.50 173.52 L238.57 187.69 L245.77 201.20 L253.15 214.11 L260.66 226.33 L256.25 235.34 L254.26 239.83 L249.98 251.14 L246.57 261.50 L244.08 270.53 L242.17 279.02 L240.77 287.13 L239.74 295.83 L239.31 301.71 L239.10 309.80 L239.31 317.89 L239.74 323.77 L240.57 331.03 L241.58 337.43 L242.75 343.40 L244.26 349.81 L246.05 356.36 L248.08 362.89 L250.28 369.32 L254.91 381.39 L260.66 393.27 L253.15 405.49 L245.77 418.40 L238.57 431.91 L231.50 446.08 L231.50 566.00" fill="none" stroke="#ffffff" stroke-opacity="0.85" stroke-width="2.2" stroke-linejoin="round"/>
<path d="M263.50 54.00 L263.50 152.58 L268.51 167.22 L273.66 181.36 L278.93 195.01 L284.33 208.17 L280.22 215.09 L264.60 244.85 L260.49 253.32 L257.15 261.18 L255.48 265.59 L253.72 270.76 L252.19 275.91 L250.91 280.89 L249.92 285.44 L248.90 291.25 L248.21 296.62 L247.86 300.45 L247.50 309.80 L247.86 319.15 L248.56 325.91 L249.58 332.41 L250.58 337.29 L252.19 343.69 L254.02 349.77 L255.76 354.79 L257.95 360.41 L260.25 365.74 L263.07 371.71 L280.22 404.51 L284.33 411.43 L278.93 424.59 L273.66 438.24 L268.51 452.38 L263.50 467.02 L263.50 566.00" fill="none" stroke="#ffffff" stroke-opacity="0.85" stroke-width="2.2" stroke-linejoin="round"/>
<path d="M295.50 54.00 L295.50 140.06 L298.51 155.11 L301.59 169.73 L304.76 183.93 L308.00 197.69 L305.53 202.41 L302.39 208.96 L298.76 215.47 L294.13 222.03 L284.46 234.99 L277.64 244.85 L274.37 250.01 L271.72 254.52 L269.19 259.21 L266.83 264.01 L264.73 268.80 L262.48 274.69 L260.57 280.66 L259.06 286.47 L258.02 291.58 L256.95 299.19 L256.40 309.80 L256.95 320.41 L258.02 328.02 L259.06 333.13 L260.57 338.94 L262.48 344.91 L264.73 350.80 L266.83 355.59 L269.19 360.39 L271.72 365.08 L274.37 369.59 L277.64 374.75 L284.46 384.61 L294.13 397.57 L298.76 404.13 L302.39 410.64 L305.53 417.19 L308.00 421.91 L304.76 435.67 L301.59 449.87 L298.51 464.49 L295.50 479.54 L295.50 566.00" fill="none" stroke="#ffffff" stroke-opacity="0.85" stroke-width="2.2" stroke-linejoin="round"/>
<path d="M327.50 54.00 L327.50 134.13 L329.53 164.27 L331.67 192.80 L329.38 203.53 L328.59 206.47 L328.01 208.07 L326.90 210.78 L325.72 213.22 L322.68 218.34 L319.46 222.55 L317.10 225.12 L314.47 227.68 L299.51 239.30 L294.87 243.28 L290.85 247.07 L287.08 250.99 L282.67 256.16 L278.86 261.32 L276.02 265.72 L272.90 271.32 L271.23 274.80 L269.47 278.95 L267.62 284.16 L265.66 291.33 L263.60 309.80 L265.66 328.27 L267.62 335.44 L269.47 340.65 L271.23 344.80 L272.90 348.28 L276.02 353.88 L278.86 358.28 L282.67 363.44 L287.08 368.61 L290.85 372.53 L294.87 376.32 L299.51 380.30 L314.47 391.92 L317.10 394.48 L319.46 397.05 L322.68 401.26 L325.72 406.38 L326.90 408.82 L328.01 411.53 L328.59 413.13 L329.38 416.07 L331.67 426.80 L329.53 455.33 L327.50 485.47 L327.50 566.00" fill="none" stroke="#ffffff" stroke-opacity="0.85" stroke-width="2.2" stroke-linejoin="round"/>
<path d="M359.50 54.00 L359.50 134.13 L357.47 164.27 L355.33 192.80 L357.62 203.53 L358.41 206.47 L358.99 208.07 L360.10 210.78 L361.28 213.22 L364.32 218.34 L367.54 222.55 L369.90 225.12 L372.53 227.68 L387.49 239.30 L392.13 243.28 L396.15 247.07 L399.92 250.99 L404.33 256.16 L408.14 261.32 L410.98 265.72 L414.10 271.32 L415.77 274.80 L417.53 278.95 L419.38 284.16 L421.34 291.33 L423.40 309.80 L421.34 328.27 L419.38 335.44 L417.53 340.65 L415.77 344.80 L414.10 348.28 L410.98 353.88 L408.14 358.28 L404.33 363.44 L399.92 368.61 L396.15 372.53 L392.13 376.32 L387.49 380.30 L372.53 391.92 L369.90 394.48 L367.54 397.05 L364.32 401.26 L361.28 406.38 L360.10 408.82 L358.99 411.53 L358.41 413.13 L357.62 416.07 L355.33 426.80 L357.47 455.33 L359.50 485.47 L359.50 566.00" fill="none" stroke="#ffffff" stroke-opacity="0.85" stroke-width="2.2" stroke-linejoin="round"/>
<path d="M391.50 54.00 L391.50 140.06 L388.49 155.11 L385.41 169.73 L382.24 183.93 L379.00 197.69 L381.47 202.41 L384.61 208.96 L388.24 215.47 L392.87 222.03 L402.54 234.99 L409.36 244.85 L412.63 250.01 L415.28 254.52 L417.81 259.21 L420.17 264.01 L422.27 268.80 L424.52 274.69 L426.43 280.66 L427.94 286.47 L428.98 291.58 L430.05 299.19 L430.60 309.80 L430.05 320.41 L428.98 328.02 L427.94 333.13 L426.43 338.94 L424.52 344.91 L422.27 350.80 L420.17 355.59 L417.81 360.39 L415.28 365.08 L412.63 369.59 L409.36 374.75 L402.54 384.61 L392.87 397.57 L388.24 404.13 L384.61 410.64 L381.47 417.19 L379.00 421.91 L382.24 435.67 L385.41 449.87 L388.49 464.49 L391.50 479.54 L391.50 566.00" fill="none" stroke="#ffffff" stroke-opacity="0.85" stroke-width="2.2" stroke-linejoin="round"/>
<path d="M423.50 54.00 L423.50 152.58 L418.49 167.22 L413.34 181.36 L408.07 195.01 L402.67 208.17 L406.78 215.09 L422.40 244.85 L426.51 253.32 L429.85 261.18 L431.52 265.59 L433.28 270.76 L434.81 275.91 L436.09 280.89 L437.08 285.44 L438.10 291.25 L438.79 296.62 L439.14 300.45 L439.50 309.80 L439.14 319.15 L438.44 325.91 L437.42 332.41 L436.42 337.29 L434.81 343.69 L432.98 349.77 L431.24 354.79 L429.05 360.41 L426.75 365.74 L423.93 371.71 L406.78 404.51 L402.67 411.43 L408.07 424.59 L413.34 438.24 L418.49 452.38 L423.50 467.02 L423.50 566.00" fill="none" stroke="#ffffff" stroke-opacity="0.85" stroke-width="2.2" stroke-linejoin="round"/>
<path d="M455.50 54.00 L455.50 173.52 L448.43 187.69 L441.23 201.20 L433.85 214.11 L426.34 226.33 L430.75 235.34 L432.74 239.83 L437.02 251.14 L440.43 261.50 L442.92 270.53 L444.83 279.02 L446.23 287.13 L447.26 295.83 L447.69 301.71 L447.90 309.80 L447.69 317.89 L447.26 323.77 L446.43 331.03 L445.42 337.43 L444.25 343.40 L442.74 349.81 L440.95 356.36 L438.92 362.89 L436.72 369.32 L432.09 381.39 L426.34 393.27 L433.85 405.49 L441.23 418.40 L448.43 431.91 L455.50 446.08 L455.50 566.00" fill="none" stroke="#ffffff" stroke-opacity="0.85" stroke-width="2.2" stroke-linejoin="round"/>
<path d="M487.50 54.00 L487.50 207.91 L478.47 221.85 L469.22 235.17 L459.79 247.77 L450.01 259.94 L451.67 266.01 L453.22 272.47 L454.43 278.35 L455.46 284.44 L456.31 290.80 L456.96 297.74 L457.18 301.26 L457.40 309.80 L457.18 318.34 L456.96 321.86 L456.31 328.80 L455.46 335.16 L454.43 341.25 L453.22 347.13 L451.67 353.59 L450.01 359.66 L459.79 371.83 L469.22 384.43 L478.47 397.75 L487.50 411.69 L487.50 566.00" fill="none" stroke="#ffffff" stroke-opacity="0.85" stroke-width="2.2" stroke-linejoin="round"/>
<path d="M519.50 54.0V566.0" fill="none" stroke="#ffffff" stroke-opacity="0.85" stroke-width="2.2" stroke-linejoin="round"/>
<path d="M551.50 54.0V566.0" fill="none" stroke="#ffffff" stroke-opacity="0.85" stroke-width="2.2" stroke-linejoin="round"/>
<path d="M583.50 54.0V566.0" fill="none" stroke="#ffffff" stroke-opacity="0.85" stroke-width="2.2" stroke-linejoin="round"/>
<rect x="821.8" y="54" width="512" height="512" fill="url(#Jb)"/>
<circle cx="1077.45" cy="309.8" r="176.40" fill="url(#gb0)"/>
<circle cx="1077.45" cy="309.8" r="175.90" fill="url(#gb1)"/>
<circle cx="1077.45" cy="309.8" r="175.40" fill="url(#gb2)"/>
<circle cx="1077.45" cy="309.8" r="174.90" fill="url(#gb3)"/>
<circle cx="1077.45" cy="309.8" r="174.40" fill="url(#gb4)"/>
<circle cx="1077.45" cy="309.8" r="173.90" fill="url(#gb5)"/>
<circle cx="1077.45" cy="309.8" r="173.40" fill="url(#gb6)"/>
<circle cx="1077.45" cy="309.8" r="172.90" fill="url(#gb7)"/>
<circle cx="1077.45" cy="309.8" r="172.40" fill="url(#gb8)"/>
<circle cx="1077.45" cy="309.8" r="171.90" fill="url(#gb9)"/>
<circle cx="1077.45" cy="309.8" r="171.40" fill="url(#gb10)"/>
<circle cx="1077.45" cy="309.8" r="170.90" fill="url(#gb11)"/>
<circle cx="1077.45" cy="309.8" r="170.40" fill="url(#gb12)"/>
<circle cx="1077.45" cy="309.8" r="169.90" fill="url(#gb13)"/>
<circle cx="1077.45" cy="309.8" r="169.40" fill="url(#gb14)"/>
<circle cx="1077.45" cy="309.8" r="168.90" fill="url(#gb15)"/>
<circle cx="1077.45" cy="309.8" r="168.40" fill="url(#gb16)"/>
<circle cx="1077.45" cy="309.8" r="167.90" fill="url(#gb17)"/>
<circle cx="1077.45" cy="309.8" r="167.40" fill="url(#gb18)"/>
<circle cx="1077.45" cy="309.8" r="166.90" fill="url(#gb19)"/>
<circle cx="1077.45" cy="309.8" r="166.40" fill="url(#gb20)"/>
<circle cx="1077.45" cy="309.8" r="165.90" fill="url(#gb21)"/>
<circle cx="1077.45" cy="309.8" r="165.40" fill="url(#gb22)"/>
<circle cx="1077.45" cy="309.8" r="164.90" fill="url(#gb23)"/>
<circle cx="1077.45" cy="309.8" r="164.40" fill="url(#gb24)"/>
<circle cx="1077.45" cy="309.8" r="163.90" fill="url(#gb25)"/>
<circle cx="1077.45" cy="309.8" r="163.40" fill="url(#gb26)"/>
<circle cx="1077.45" cy="309.8" r="162.90" fill="url(#gb27)"/>
<circle cx="1077.45" cy="309.8" r="162.40" fill="url(#gb28)"/>
<circle cx="1077.45" cy="309.8" r="161.90" fill="url(#gb29)"/>
<circle cx="1077.45" cy="309.8" r="161.40" fill="url(#gb30)"/>
<circle cx="1077.45" cy="309.8" r="160.90" fill="url(#gb31)"/>
<circle cx="1077.45" cy="309.8" r="160.40" fill="url(#gb32)"/>
<circle cx="1077.45" cy="309.8" r="159.90" fill="url(#gb33)"/>
<circle cx="1077.45" cy="309.8" r="159.40" fill="url(#gb34)"/>
<circle cx="1077.45" cy="309.8" r="158.90" fill="url(#gb35)"/>
<circle cx="1077.45" cy="309.8" r="158.40" fill="url(#gb36)"/>
<circle cx="1077.45" cy="309.8" r="157.90" fill="url(#gb37)"/>
<circle cx="1077.45" cy="309.8" r="157.40" fill="url(#gb38)"/>
<circle cx="1077.45" cy="309.8" r="156.90" fill="url(#gb39)"/>
<circle cx="1077.45" cy="309.8" r="156.40" fill="url(#gb40)"/>
<circle cx="1077.45" cy="309.8" r="155.90" fill="url(#gb41)"/>
<circle cx="1077.45" cy="309.8" r="155.40" fill="url(#gb42)"/>
<circle cx="1077.45" cy="309.8" r="154.90" fill="url(#gb43)"/>
<circle cx="1077.45" cy="309.8" r="154.40" fill="url(#gb44)"/>
<circle cx="1077.45" cy="309.8" r="153.90" fill="url(#gb45)"/>
<circle cx="1077.45" cy="309.8" r="153.40" fill="url(#gb46)"/>
<circle cx="1077.45" cy="309.8" r="152.90" fill="url(#gb47)"/>
<circle cx="1077.45" cy="309.8" r="152.40" fill="url(#gb48)"/>
<circle cx="1077.45" cy="309.8" r="151.90" fill="url(#gb49)"/>
<circle cx="1077.45" cy="309.8" r="151.40" fill="url(#gb50)"/>
<circle cx="1077.45" cy="309.8" r="150.90" fill="url(#gb51)"/>
<circle cx="1077.45" cy="309.8" r="150.40" fill="url(#gb52)"/>
<circle cx="1077.45" cy="309.8" r="149.90" fill="url(#gb53)"/>
<circle cx="1077.45" cy="309.8" r="149.40" fill="url(#gb54)"/>
<circle cx="1077.45" cy="309.8" r="148.90" fill="url(#gb55)"/>
<circle cx="1077.45" cy="309.8" r="148.40" fill="url(#gb56)"/>
<circle cx="1077.45" cy="309.8" r="147.90" fill="url(#gb57)"/>
<circle cx="1077.45" cy="309.8" r="147.40" fill="url(#gb58)"/>
<circle cx="1077.45" cy="309.8" r="146.90" fill="url(#gb59)"/>
<circle cx="1077.45" cy="309.8" r="146.40" fill="url(#gb60)"/>
<circle cx="1077.45" cy="309.8" r="145.90" fill="url(#gb61)"/>
<circle cx="1077.45" cy="309.8" r="145.40" fill="url(#gb62)"/>
<circle cx="1077.45" cy="309.8" r="144.90" fill="url(#gb63)"/>
<circle cx="1077.45" cy="309.8" r="144.40" fill="url(#gb64)"/>
<circle cx="1077.45" cy="309.8" r="143.90" fill="url(#gb65)"/>
<circle cx="1077.45" cy="309.8" r="143.40" fill="url(#gb66)"/>
<circle cx="1077.45" cy="309.8" r="142.90" fill="url(#gb67)"/>
<circle cx="1077.45" cy="309.8" r="142.40" fill="url(#gb68)"/>
<circle cx="1077.45" cy="309.8" r="141.90" fill="url(#gb69)"/>
<circle cx="1077.45" cy="309.8" r="141.40" fill="url(#gb70)"/>
<circle cx="1077.45" cy="309.8" r="140.90" fill="url(#gb71)"/>
<circle cx="1077.45" cy="309.8" r="140.40" fill="url(#gb72)"/>
<circle cx="1077.45" cy="309.8" r="139.90" fill="url(#gb73)"/>
<circle cx="1077.45" cy="309.8" r="139.40" fill="url(#gb74)"/>
<circle cx="1077.45" cy="309.8" r="138.90" fill="url(#gb75)"/>
<circle cx="1077.45" cy="309.8" r="138.40" fill="url(#gb76)"/>
<circle cx="1077.45" cy="309.8" r="137.90" fill="url(#gb77)"/>
<circle cx="1077.45" cy="309.8" r="137.40" fill="url(#gb78)"/>
<circle cx="1077.45" cy="309.8" r="136.90" fill="url(#gb79)"/>
<circle cx="1077.45" cy="309.8" r="136.40" fill="url(#gb80)"/>
<circle cx="1077.45" cy="309.8" r="135.90" fill="url(#gb81)"/>
<circle cx="1077.45" cy="309.8" r="135.40" fill="url(#gb82)"/>
<circle cx="1077.45" cy="309.8" r="134.90" fill="url(#gb83)"/>
<circle cx="1077.45" cy="309.8" r="134.40" fill="url(#gb84)"/>
<circle cx="1077.45" cy="309.8" r="133.90" fill="url(#gb85)"/>
<circle cx="1077.45" cy="309.8" r="133.40" fill="url(#gb86)"/>
<circle cx="1077.45" cy="309.8" r="132.90" fill="url(#gb87)"/>
<circle cx="1077.45" cy="309.8" r="132.40" fill="url(#gb88)"/>
<circle cx="1077.45" cy="309.8" r="131.90" fill="url(#gb89)"/>
<circle cx="1077.45" cy="309.8" r="131.40" fill="url(#gb90)"/>
<circle cx="1077.45" cy="309.8" r="130.90" fill="url(#gb91)"/>
<circle cx="1077.45" cy="309.8" r="130.40" fill="url(#gb92)"/>
<circle cx="1077.45" cy="309.8" r="129.90" fill="url(#gb93)"/>
<circle cx="1077.45" cy="309.8" r="129.40" fill="url(#gb94)"/>
<circle cx="1077.45" cy="309.8" r="128.90" fill="url(#gb95)"/>
<circle cx="1077.45" cy="309.8" r="128.40" fill="url(#gb96)"/>
<circle cx="1077.45" cy="309.8" r="127.90" fill="url(#gb97)"/>
<circle cx="1077.45" cy="309.8" r="127.40" fill="url(#gb98)"/>
<circle cx="1077.45" cy="309.8" r="126.90" fill="url(#gb99)"/>
<circle cx="1077.45" cy="309.8" r="126.40" fill="url(#gb100)"/>
<circle cx="1077.45" cy="309.8" r="125.90" fill="url(#gb101)"/>
<circle cx="1077.45" cy="309.8" r="125.40" fill="url(#gb102)"/>
<circle cx="1077.45" cy="309.8" r="124.90" fill="url(#gb103)"/>
<circle cx="1077.45" cy="309.8" r="124.40" fill="url(#gb104)"/>
<circle cx="1077.45" cy="309.8" r="123.90" fill="url(#gb105)"/>
<circle cx="1077.45" cy="309.8" r="123.40" fill="url(#gb106)"/>
<circle cx="1077.45" cy="309.8" r="122.90" fill="url(#gb107)"/>
<circle cx="1077.45" cy="309.8" r="122.40" fill="url(#gb108)"/>
<circle cx="1077.45" cy="309.8" r="121.90" fill="url(#gb109)"/>
<circle cx="1077.45" cy="309.8" r="121.40" fill="url(#gb110)"/>
<circle cx="1077.45" cy="309.8" r="120.90" fill="url(#gb111)"/>
<circle cx="1077.45" cy="309.8" r="120.40" fill="url(#gb112)"/>
<circle cx="1077.45" cy="309.8" r="119.90" fill="url(#gb113)"/>
<circle cx="1077.45" cy="309.8" r="119.40" fill="url(#gb114)"/>
<circle cx="1077.45" cy="309.8" r="118.90" fill="url(#gb115)"/>
<circle cx="1077.45" cy="309.8" r="118.40" fill="url(#gb116)"/>
<circle cx="1077.45" cy="309.8" r="117.90" fill="url(#gb117)"/>
<circle cx="1077.45" cy="309.8" r="117.40" fill="url(#gb118)"/>
<circle cx="1077.45" cy="309.8" r="116.90" fill="url(#gb119)"/>
<circle cx="1077.45" cy="309.8" r="116.40" fill="url(#gb120)"/>
<circle cx="1077.45" cy="309.8" r="115.90" fill="url(#gb121)"/>
<circle cx="1077.45" cy="309.8" r="115.40" fill="url(#gb122)"/>
<circle cx="1077.45" cy="309.8" r="114.90" fill="url(#gb123)"/>
<circle cx="1077.45" cy="309.8" r="114.40" fill="url(#gb124)"/>
<circle cx="1077.45" cy="309.8" r="113.90" fill="url(#gb125)"/>
<circle cx="1077.45" cy="309.8" r="113.40" fill="url(#gb126)"/>
<circle cx="1077.45" cy="309.8" r="112.90" fill="url(#gb127)"/>
<circle cx="1077.45" cy="309.8" r="112.40" fill="url(#gb128)"/>
<circle cx="1077.45" cy="309.8" r="111.90" fill="url(#gb129)"/>
<circle cx="1077.45" cy="309.8" r="111.40" fill="url(#gb130)"/>
<circle cx="1077.45" cy="309.8" r="110.90" fill="url(#gb131)"/>
<circle cx="1077.45" cy="309.8" r="110.40" fill="url(#gb132)"/>
<circle cx="1077.45" cy="309.8" r="109.90" fill="url(#gb133)"/>
<circle cx="1077.45" cy="309.8" r="109.40" fill="url(#gb134)"/>
<circle cx="1077.45" cy="309.8" r="108.90" fill="url(#gb135)"/>
<circle cx="1077.45" cy="309.8" r="108.40" fill="url(#gb136)"/>
<circle cx="1077.45" cy="309.8" r="107.90" fill="url(#gb137)"/>
<circle cx="1077.45" cy="309.8" r="107.40" fill="url(#gb138)"/>
<circle cx="1077.45" cy="309.8" r="106.90" fill="url(#gb139)"/>
<circle cx="1077.45" cy="309.8" r="106.40" fill="url(#gb140)"/>
<circle cx="1077.45" cy="309.8" r="105.90" fill="url(#gb141)"/>
<circle cx="1077.45" cy="309.8" r="105.40" fill="url(#gb142)"/>
<circle cx="1077.45" cy="309.8" r="104.90" fill="url(#gb143)"/>
<circle cx="1077.45" cy="309.8" r="104.40" fill="url(#gb144)"/>
<circle cx="1077.45" cy="309.8" r="103.90" fill="url(#gb145)"/>
<circle cx="1077.45" cy="309.8" r="103.40" fill="url(#gb146)"/>
<circle cx="1077.45" cy="309.8" r="102.90" fill="url(#gb147)"/>
<circle cx="1077.45" cy="309.8" r="102.40" fill="url(#gb148)"/>
<circle cx="1077.45" cy="309.8" r="101.90" fill="url(#gb149)"/>
<circle cx="1077.45" cy="309.8" r="101.40" fill="url(#gb150)"/>
<circle cx="1077.45" cy="309.8" r="100.90" fill="url(#gb151)"/>
<circle cx="1077.45" cy="309.8" r="100.40" fill="url(#gb152)"/>
<circle cx="1077.45" cy="309.8" r="99.90" fill="url(#gb153)"/>
<circle cx="1077.45" cy="309.8" r="99.40" fill="url(#gb154)"/>
<circle cx="1077.45" cy="309.8" r="98.90" fill="url(#gb155)"/>
<circle cx="1077.45" cy="309.8" r="98.40" fill="url(#gb156)"/>
<circle cx="1077.45" cy="309.8" r="97.90" fill="url(#gb157)"/>
<circle cx="1077.45" cy="309.8" r="97.40" fill="url(#gb158)"/>
<circle cx="1077.45" cy="309.8" r="96.90" fill="url(#gb159)"/>
<circle cx="1077.45" cy="309.8" r="96.40" fill="url(#gb160)"/>
<circle cx="1077.45" cy="309.8" r="95.90" fill="url(#gb161)"/>
<circle cx="1077.45" cy="309.8" r="95.40" fill="url(#gb162)"/>
<circle cx="1077.45" cy="309.8" r="94.90" fill="url(#gb163)"/>
<circle cx="1077.45" cy="309.8" r="94.40" fill="url(#gb164)"/>
<circle cx="1077.45" cy="309.8" r="93.90" fill="url(#gb165)"/>
<circle cx="1077.45" cy="309.8" r="93.40" fill="url(#gb166)"/>
<circle cx="1077.45" cy="309.8" r="92.90" fill="url(#gb167)"/>
<circle cx="1077.45" cy="309.8" r="92.40" fill="url(#gb168)"/>
<circle cx="1077.45" cy="309.8" r="91.90" fill="url(#gb169)"/>
<circle cx="1077.45" cy="309.8" r="91.40" fill="url(#gb170)"/>
<circle cx="1077.45" cy="309.8" r="90.90" fill="url(#gb171)"/>
<circle cx="1077.45" cy="309.8" r="90.40" fill="url(#gb172)"/>
<circle cx="1077.45" cy="309.8" r="89.90" fill="url(#gb173)"/>
<circle cx="1077.45" cy="309.8" r="89.40" fill="url(#gb174)"/>
<circle cx="1077.45" cy="309.8" r="88.90" fill="url(#gb175)"/>
<circle cx="1077.45" cy="309.8" r="88.40" fill="url(#gb176)"/>
<circle cx="1077.45" cy="309.8" r="87.90" fill="url(#gb177)"/>
<circle cx="1077.45" cy="309.8" r="87.40" fill="url(#gb178)"/>
<circle cx="1077.45" cy="309.8" r="86.90" fill="url(#gb179)"/>
<circle cx="1077.45" cy="309.8" r="86.40" fill="url(#gb180)"/>
<circle cx="1077.45" cy="309.8" r="85.90" fill="url(#gb181)"/>
<circle cx="1077.45" cy="309.8" r="85.40" fill="url(#gb182)"/>
<circle cx="1077.45" cy="309.8" r="84.90" fill="url(#gb183)"/>
<circle cx="1077.45" cy="309.8" r="84.40" fill="url(#gb184)"/>
<circle cx="1077.45" cy="309.8" r="83.90" fill="url(#gb185)"/>
<circle cx="1077.45" cy="309.8" r="83.40" fill="url(#gb186)"/>
<circle cx="1077.45" cy="309.8" r="82.90" fill="url(#gb187)"/>
<circle cx="1077.45" cy="309.8" r="82.40" fill="url(#gb188)"/>
<circle cx="1077.45" cy="309.8" r="81.90" fill="url(#gb189)"/>
<circle cx="1077.45" cy="309.8" r="81.40" fill="url(#gb190)"/>
<circle cx="1077.45" cy="309.8" r="80.90" fill="url(#gb191)"/>
<circle cx="1077.45" cy="309.8" r="80.40" fill="url(#gb192)"/>
<circle cx="1077.45" cy="309.8" r="79.90" fill="url(#gb193)"/>
<circle cx="1077.45" cy="309.8" r="79.40" fill="url(#gb194)"/>
<circle cx="1077.45" cy="309.8" r="78.90" fill="url(#gb195)"/>
<circle cx="1077.45" cy="309.8" r="78.40" fill="url(#gb196)"/>
<circle cx="1077.45" cy="309.8" r="78.1" fill="url(#gbin)"/>
<circle cx="1077.45" cy="309.8" r="78.1" fill="none" stroke="#262626" stroke-width="1.8"/>
<circle cx="1077.45" cy="309.8" r="117.6" fill="none" stroke="#262626" stroke-width="1.8"/>
<circle cx="1077.45" cy="309.8" r="176.4" fill="none" stroke="#262626" stroke-width="1.8"/>
<path d="M837.45 54.0V566.0" fill="none" stroke="#ffffff" stroke-opacity="0.85" stroke-width="2.2" stroke-linejoin="round"/>
<path d="M869.45 54.0V566.0" fill="none" stroke="#ffffff" stroke-opacity="0.85" stroke-width="2.2" stroke-linejoin="round"/>
<path d="M901.45 54.00 L901.45 297.93 L902.23 302.96 L902.61 308.22 L902.61 311.38 L902.38 315.19 L902.01 318.37 L901.45 321.67 L901.45 566.00" fill="none" stroke="#ffffff" stroke-opacity="0.85" stroke-width="2.2" stroke-linejoin="round"/>
<path d="M933.45 54.00 L933.45 207.91 L942.95 221.03 L952.66 233.54 L962.39 245.21 L972.62 256.61 L983.37 279.48 L986.11 285.77 L988.16 291.00 L989.86 296.13 L991.06 300.90 L991.73 305.08 L992.00 309.55 L991.80 313.89 L991.12 318.37 L989.93 323.24 L988.22 328.42 L986.17 333.68 L983.43 339.99 L972.62 362.99 L962.39 374.39 L952.66 386.06 L942.95 398.57 L933.45 411.69 L933.45 566.00" fill="none" stroke="#ffffff" stroke-opacity="0.85" stroke-width="2.2" stroke-linejoin="round"/>
<path d="M965.45 54.00 L965.45 173.52 L972.87 187.26 L980.41 200.44 L988.09 213.05 L995.89 225.07 L1000.36 235.16 L1004.92 244.64 L1009.35 253.12 L1014.97 262.94 L1014.97 263.11 L1014.97 356.66 L1009.97 365.34 L1005.16 374.48 L1000.45 384.24 L995.89 394.53 L988.09 406.55 L980.41 419.16 L972.87 432.34 L965.45 446.08 L965.45 566.00" fill="none" stroke="#ffffff" stroke-opacity="0.85" stroke-width="2.2" stroke-linejoin="round"/>
<path d="M997.45 54.00 L997.45 152.58 L1002.73 167.02 L1008.08 180.93 L1013.57 194.46 L1019.18 207.60 L1022.43 217.85 L1025.73 227.44 L1029.08 236.46 L1032.82 245.77 L1032.82 373.83 L1029.08 383.14 L1025.73 392.16 L1022.43 401.75 L1019.18 412.00 L1013.57 425.14 L1008.08 438.67 L1002.73 452.58 L997.45 467.02 L997.45 566.00" fill="none" stroke="#ffffff" stroke-opacity="0.85" stroke-width="2.2" stroke-linejoin="round"/>
<path d="M1029.45 54.00 L1029.45 140.06 L1035.84 169.54 L1042.50 197.51 L1046.45 217.78 L1050.67 236.43 L1050.67 383.17 L1046.45 401.82 L1042.50 422.09 L1035.84 450.06 L1029.45 479.54 L1029.45 566.00" fill="none" stroke="#ffffff" stroke-opacity="0.85" stroke-width="2.2" stroke-linejoin="round"/>
<path d="M1061.45 54.00 L1061.45 134.13 L1063.58 164.11 L1065.80 192.73 L1067.11 213.10 L1068.52 232.26 L1068.52 387.34 L1067.11 406.50 L1065.80 426.87 L1063.58 455.49 L1061.45 485.47 L1061.45 566.00" fill="none" stroke="#ffffff" stroke-opacity="0.85" stroke-width="2.2" stroke-linejoin="round"/>
<path d="M1093.45 54.00 L1093.45 134.13 L1091.32 164.11 L1089.10 192.73 L1087.79 213.10 L1086.38 232.26 L1086.38 387.34 L1087.79 406.50 L1089.10 426.87 L1091.32 455.49 L1093.45 485.47 L1093.45 566.00" fill="none" stroke="#ffffff" stroke-opacity="0.85" stroke-width="2.2" stroke-linejoin="round"/>
<path d="M1125.45 54.00 L1125.45 140.06 L1119.06 169.54 L1112.40 197.51 L1108.45 217.78 L1104.23 236.43 L1104.23 383.17 L1108.45 401.82 L1112.40 422.09 L1119.06 450.06 L1125.45 479.54 L1125.45 566.00" fill="none" stroke="#ffffff" stroke-opacity="0.85" stroke-width="2.2" stroke-linejoin="round"/>
<path d="M1157.45 54.00 L1157.45 152.58 L1152.17 167.02 L1146.82 180.93 L1141.33 194.46 L1135.72 207.60 L1132.47 217.85 L1129.17 227.44 L1125.82 236.46 L1122.08 245.77 L1122.08 373.83 L1125.82 383.14 L1129.17 392.16 L1132.47 401.75 L1135.72 412.00 L1141.33 425.14 L1146.82 438.67 L1152.17 452.58 L1157.45 467.02 L1157.45 566.00" fill="none" stroke="#ffffff" stroke-opacity="0.85" stroke-width="2.2" stroke-linejoin="round"/>
<path d="M1189.45 54.00 L1189.45 173.52 L1182.03 187.26 L1174.49 200.44 L1166.81 213.05 L1159.01 225.07 L1154.45 235.36 L1149.74 245.12 L1144.93 254.26 L1139.93 262.94 L1139.93 356.66 L1144.93 365.34 L1149.74 374.48 L1154.45 384.24 L1159.01 394.53 L1166.81 406.55 L1174.49 419.16 L1182.03 432.34 L1189.45 446.08 L1189.45 566.00" fill="none" stroke="#ffffff" stroke-opacity="0.85" stroke-width="2.2" stroke-linejoin="round"/>
<path d="M1221.45 54.00 L1221.45 207.91 L1211.95 221.03 L1202.24 233.54 L1192.51 245.21 L1182.28 256.61 L1171.53 279.48 L1168.79 285.77 L1166.74 291.00 L1165.04 296.13 L1163.84 300.90 L1163.17 305.08 L1162.90 309.55 L1163.10 313.89 L1163.78 318.37 L1164.97 323.24 L1166.68 328.42 L1168.73 333.68 L1171.47 339.99 L1182.28 362.99 L1192.51 374.39 L1202.24 386.06 L1211.95 398.57 L1221.45 411.69 L1221.45 566.00" fill="none" stroke="#ffffff" stroke-opacity="0.85" stroke-width="2.2" stroke-linejoin="round"/>
<path d="M1253.45 54.00 L1253.45 297.93 L1252.67 302.96 L1252.29 308.22 L1252.29 311.38 L1252.52 315.19 L1252.89 318.37 L1253.45 321.67 L1253.45 566.00" fill="none" stroke="#ffffff" stroke-opacity="0.85" stroke-width="2.2" stroke-linejoin="round"/>
<path d="M1285.45 54.0V566.0" fill="none" stroke="#ffffff" stroke-opacity="0.85" stroke-width="2.2" stroke-linejoin="round"/>
<path d="M1317.45 54.0V566.0" fill="none" stroke="#ffffff" stroke-opacity="0.85" stroke-width="2.2" stroke-linejoin="round"/>
<rect x="651" y="106.7" width="23.80" height="408.70" fill="url(#cba)" stroke="#2a2a2a" stroke-width="1.6"/>
<path d="M651 132.4h4.8M674.8 132.4h-4.8" stroke="#222" stroke-width="1.6"/>
<text x="685.97" y="139.25" style="font-family:'Liberation Serif';font-size:19.50px;white-space:pre;fill:#2a2a2a">320</text>
<path d="M651 214.2h4.8M674.8 214.2h-4.8" stroke="#222" stroke-width="1.6"/>
<text x="685.97" y="220.99" style="font-family:'Liberation Serif';font-size:19.50px;white-space:pre;fill:#2a2a2a">310</text>
<path d="M651 295.9h4.8M674.8 295.9h-4.8" stroke="#222" stroke-width="1.6"/>
<text x="685.97" y="302.73" style="font-family:'Liberation Serif';font-size:19.50px;white-space:pre;fill:#2a2a2a">300</text>
<path d="M651 377.7h4.8M674.8 377.7h-4.8" stroke="#222" stroke-width="1.6"/>
<text x="686.04" y="384.47" style="font-family:'Liberation Serif';font-size:19.50px;white-space:pre;fill:#2a2a2a">290</text>
<path d="M651 459.4h4.8M674.8 459.4h-4.8" stroke="#222" stroke-width="1.6"/>
<text x="686.04" y="466.21" style="font-family:'Liberation Serif';font-size:19.50px;white-space:pre;fill:#2a2a2a">280</text>
<rect x="1386.6" y="106.8" width="24.00" height="408.60" fill="url(#cbb)" stroke="#2a2a2a" stroke-width="1.6"/>
<path d="M1386.6 132.5h4.8M1410.6 132.5h-4.8" stroke="#222" stroke-width="1.6"/>
<text x="1421.47" y="139.34" style="font-family:'Liberation Serif';font-size:19.50px;white-space:pre;fill:#2a2a2a">320</text>
<path d="M1386.6 214.3h4.8M1410.6 214.3h-4.8" stroke="#222" stroke-width="1.6"/>
<text x="1421.47" y="221.06" style="font-family:'Liberation Serif';font-size:19.50px;white-space:pre;fill:#2a2a2a">310</text>
<path d="M1386.6 296.0h4.8M1410.6 296.0h-4.8" stroke="#222" stroke-width="1.6"/>
<text x="1421.47" y="302.78" style="font-family:'Liberation Serif';font-size:19.50px;white-space:pre;fill:#2a2a2a">300</text>
<path d="M1386.6 377.7h4.8M1410.6 377.7h-4.8" stroke="#222" stroke-width="1.6"/>
<text x="1421.54" y="384.50" style="font-family:'Liberation Serif';font-size:19.50px;white-space:pre;fill:#2a2a2a">290</text>
<path d="M1386.6 459.4h4.8M1410.6 459.4h-4.8" stroke="#222" stroke-width="1.6"/>
<text x="1421.54" y="466.22" style="font-family:'Liberation Serif';font-size:19.50px;white-space:pre;fill:#2a2a2a">280</text>
<text x="635.80" y="85.80" style="font-family:'Liberation Sans';font-size:33.40px;white-space:pre;font-style:italic;fill:#000">T</text>
<text x="663.03" y="85.80" style="font-family:'Liberation Sans';font-size:33.40px;white-space:pre;fill:#000">(K)</text>
<text x="1371.00" y="85.70" style="font-family:'Liberation Sans';font-size:33.40px;white-space:pre;font-style:italic;fill:#000">T</text>
<text x="1398.23" y="85.70" style="font-family:'Liberation Sans';font-size:33.40px;white-space:pre;fill:#000">(K)</text>
<text transform="translate(1.32,58.77) scale(0.9213,1)" style="font-family:'Liberation Sans';font-size:54.76px;white-space:pre;font-weight:bold;fill:#000">a</text>
<text transform="translate(740.80,58.07) scale(0.9970,1)" style="font-family:'Liberation Sans';font-size:54.74px;white-space:pre;font-weight:bold;fill:#000">b</text>
<text transform="translate(0.26,713.97) scale(1.0097,1)" style="font-family:'Liberation Sans';font-size:54.21px;white-space:pre;font-weight:bold;fill:#000">c</text>
<text transform="translate(741.12,713.07) scale(1.0151,1)" style="font-family:'Liberation Sans';font-size:54.74px;white-space:pre;font-weight:bold;fill:#000">d</text>
<text transform="translate(917.26,35.47) scale(1.0098,1)" style="font-family:'Liberation Sans';font-size:37.23px;white-space:pre;fill:#000">Thermal magic angle</text>
<text transform="translate(215.31,36.24) scale(1.1606,1)" style="font-family:'Liberation Serif';font-size:36.81px;white-space:pre;font-style:italic;fill:#000">θ</text>
<text transform="translate(234.90,43.80) scale(1.1144,1)" style="font-family:'Liberation Serif';font-size:26.51px;white-space:pre;fill:#000">1</text>
<path d="M265.1 21.95H288.4M265.1 29.7H288.4" stroke="#000" stroke-width="2.3"/>
<text transform="translate(302.34,36.14) scale(1.0276,1)" style="font-family:'Liberation Serif';font-size:37.20px;white-space:pre;fill:#000">0</text>
<text transform="translate(322.32,21.31) scale(1.0385,1)" style="font-family:'Liberation Serif';font-size:25.72px;white-space:pre;fill:#000">°</text>
<text transform="translate(332.96,37.11) scale(0.9598,1)" style="font-family:'Liberation Serif';font-size:44.78px;white-space:pre;fill:#000">,</text>
<text transform="translate(347.87,36.24) scale(1.1866,1)" style="font-family:'Liberation Serif';font-size:36.81px;white-space:pre;font-style:italic;fill:#000">θ</text>
<text transform="translate(368.38,43.80) scale(1.1326,1)" style="font-family:'Liberation Serif';font-size:26.43px;white-space:pre;fill:#000">2</text>
<path d="M398.5 21.95H422.0M398.5 29.7H422.0" stroke="#000" stroke-width="2.3"/>
<text transform="translate(435.44,36.14) scale(1.0276,1)" style="font-family:'Liberation Serif';font-size:37.20px;white-space:pre;fill:#000">0</text>
<text transform="translate(453.43,37.92) scale(1.0917,1)" style="font-family:'Liberation Serif';font-size:39.57px;white-space:pre;fill:#000">°</text>
<rect x="89.2" y="701.4" width="512.40" height="413.10" fill="none" stroke="#2a2a2a" stroke-width="1.8"/>
<path d="M143.6 1114.5v-8M200.8 1114.5v-8M258.1 1114.5v-8M315.3 1114.5v-8M372.6 1114.5v-8M429.8 1114.5v-8M487.1 1114.5v-8M544.3 1114.5v-8M115.0 1114.5v-4M172.2 1114.5v-4M229.5 1114.5v-4M286.7 1114.5v-4M344.0 1114.5v-4M401.2 1114.5v-4M458.5 1114.5v-4M515.7 1114.5v-4M573.0 1114.5v-4M89.2 1022.7h8M89.2 930.9h8M89.2 839.1h8M89.2 747.3h8M89.2 1068.6h4M89.2 976.8h4M89.2 885.0h4M89.2 793.2h4" stroke="#2a2a2a" stroke-width="1.6"/>
<text x="74.52" y="1141.60" style="font-family:'Liberation Serif';font-size:23.50px;white-space:pre;fill:#111">0.5</text>
<text x="131.25" y="1141.60" style="font-family:'Liberation Serif';font-size:23.50px;white-space:pre;fill:#111">10</text>
<text x="189.02" y="1141.60" style="font-family:'Liberation Serif';font-size:23.50px;white-space:pre;fill:#111">20</text>
<text x="246.23" y="1141.60" style="font-family:'Liberation Serif';font-size:23.50px;white-space:pre;fill:#111">30</text>
<text x="303.81" y="1141.60" style="font-family:'Liberation Serif';font-size:23.50px;white-space:pre;fill:#111">40</text>
<text x="360.61" y="1141.60" style="font-family:'Liberation Serif';font-size:23.50px;white-space:pre;fill:#111">50</text>
<text x="418.04" y="1141.60" style="font-family:'Liberation Serif';font-size:23.50px;white-space:pre;fill:#111">60</text>
<text x="475.02" y="1141.60" style="font-family:'Liberation Serif';font-size:23.50px;white-space:pre;fill:#111">70</text>
<text x="532.60" y="1141.60" style="font-family:'Liberation Serif';font-size:23.50px;white-space:pre;fill:#111">80</text>
<text x="589.92" y="1141.60" style="font-family:'Liberation Serif';font-size:23.50px;white-space:pre;fill:#111">90</text>
<text x="69.05" y="1122.10" style="font-family:'Liberation Serif';font-size:23.50px;white-space:pre;fill:#111">0</text>
<text x="57.30" y="1030.30" style="font-family:'Liberation Serif';font-size:23.50px;white-space:pre;fill:#111">20</text>
<text x="57.30" y="938.50" style="font-family:'Liberation Serif';font-size:23.50px;white-space:pre;fill:#111">40</text>
<text x="57.30" y="846.70" style="font-family:'Liberation Serif';font-size:23.50px;white-space:pre;fill:#111">60</text>
<text x="57.30" y="754.90" style="font-family:'Liberation Serif';font-size:23.50px;white-space:pre;fill:#111">80</text>
<path d="M89.2 1107.2 L90.3 1103.5 L91.5 1108.5 L93.2 1109.9 L102.9 1108.1 L120.7 1091.5 L132.1 1088.8 L143.6 1076.9 L155.0 1070.4 L166.5 1065.8 L177.9 1057.6 L189.4 1050.7 L200.8 1044.3 L212.3 1035.6 L223.7 1028.7 L235.2 1021.8 L246.6 1015.4 L258.1 1007.1 L281.0 991.5 L303.9 977.7 L326.8 963.5 L349.7 945.6 L372.6 933.2 L395.5 921.3 L418.4 907.5 L441.3 893.3 L464.2 881.8 L487.1 868.9 L510.0 852.4 L532.9 840.9 L555.8 829.0 L578.7 817.1 L601.6 805.6" fill="none" stroke="#505050" stroke-width="1.8" stroke-linejoin="round"/>
<rect x="85.0" y="1102.9" width="8.5" height="8.5" fill="#fff" stroke="#8a8a8a" stroke-width="1.1"/>
<rect x="86.1" y="1099.2" width="8.5" height="8.5" fill="#fff" stroke="#8a8a8a" stroke-width="1.1"/>
<rect x="87.2" y="1104.3" width="8.5" height="8.5" fill="#fff" stroke="#8a8a8a" stroke-width="1.1"/>
<rect x="89.0" y="1105.7" width="8.5" height="8.5" fill="#fff" stroke="#8a8a8a" stroke-width="1.1"/>
<rect x="98.7" y="1103.8" width="8.5" height="8.5" fill="#fff" stroke="#8a8a8a" stroke-width="1.1"/>
<rect x="116.4" y="1087.3" width="8.5" height="8.5" fill="#fff" stroke="#8a8a8a" stroke-width="1.1"/>
<rect x="127.9" y="1084.5" width="8.5" height="8.5" fill="#fff" stroke="#8a8a8a" stroke-width="1.1"/>
<rect x="139.3" y="1072.6" width="8.5" height="8.5" fill="#fff" stroke="#8a8a8a" stroke-width="1.1"/>
<rect x="150.8" y="1066.2" width="8.5" height="8.5" fill="#fff" stroke="#8a8a8a" stroke-width="1.1"/>
<rect x="162.2" y="1061.6" width="8.5" height="8.5" fill="#fff" stroke="#8a8a8a" stroke-width="1.1"/>
<rect x="173.7" y="1053.3" width="8.5" height="8.5" fill="#fff" stroke="#8a8a8a" stroke-width="1.1"/>
<rect x="185.1" y="1046.4" width="8.5" height="8.5" fill="#fff" stroke="#8a8a8a" stroke-width="1.1"/>
<rect x="196.6" y="1040.0" width="8.5" height="8.5" fill="#fff" stroke="#8a8a8a" stroke-width="1.1"/>
<rect x="208.0" y="1031.3" width="8.5" height="8.5" fill="#fff" stroke="#8a8a8a" stroke-width="1.1"/>
<rect x="219.5" y="1024.4" width="8.5" height="8.5" fill="#fff" stroke="#8a8a8a" stroke-width="1.1"/>
<rect x="230.9" y="1017.5" width="8.5" height="8.5" fill="#fff" stroke="#8a8a8a" stroke-width="1.1"/>
<rect x="242.4" y="1011.1" width="8.5" height="8.5" fill="#fff" stroke="#8a8a8a" stroke-width="1.1"/>
<rect x="253.8" y="1002.8" width="8.5" height="8.5" fill="#fff" stroke="#8a8a8a" stroke-width="1.1"/>
<rect x="276.7" y="987.2" width="8.5" height="8.5" fill="#fff" stroke="#8a8a8a" stroke-width="1.1"/>
<rect x="299.6" y="973.5" width="8.5" height="8.5" fill="#fff" stroke="#8a8a8a" stroke-width="1.1"/>
<rect x="322.5" y="959.2" width="8.5" height="8.5" fill="#fff" stroke="#8a8a8a" stroke-width="1.1"/>
<rect x="345.4" y="941.3" width="8.5" height="8.5" fill="#fff" stroke="#8a8a8a" stroke-width="1.1"/>
<rect x="368.3" y="928.9" width="8.5" height="8.5" fill="#fff" stroke="#8a8a8a" stroke-width="1.1"/>
<rect x="391.2" y="917.0" width="8.5" height="8.5" fill="#fff" stroke="#8a8a8a" stroke-width="1.1"/>
<rect x="414.1" y="903.2" width="8.5" height="8.5" fill="#fff" stroke="#8a8a8a" stroke-width="1.1"/>
<rect x="437.0" y="889.0" width="8.5" height="8.5" fill="#fff" stroke="#8a8a8a" stroke-width="1.1"/>
<rect x="459.9" y="877.5" width="8.5" height="8.5" fill="#fff" stroke="#8a8a8a" stroke-width="1.1"/>
<rect x="482.8" y="864.7" width="8.5" height="8.5" fill="#fff" stroke="#8a8a8a" stroke-width="1.1"/>
<rect x="505.7" y="848.2" width="8.5" height="8.5" fill="#fff" stroke="#8a8a8a" stroke-width="1.1"/>
<rect x="528.6" y="836.7" width="8.5" height="8.5" fill="#fff" stroke="#8a8a8a" stroke-width="1.1"/>
<rect x="551.5" y="824.8" width="8.5" height="8.5" fill="#fff" stroke="#8a8a8a" stroke-width="1.1"/>
<rect x="574.4" y="812.8" width="8.5" height="8.5" fill="#fff" stroke="#8a8a8a" stroke-width="1.1"/>
<rect x="597.4" y="801.3" width="8.5" height="8.5" fill="#fff" stroke="#8a8a8a" stroke-width="1.1"/>
<path d="M89.2 1094.8 L89.8 1096.1 L90.9 1098.0 L92.1 1099.8 L103.5 1099.8 L109.2 1103.0 L112.1 1102.6 L115.0 1101.2 L117.8 1098.9 L120.7 1096.6 L143.6 1074.1 L155.0 1068.1 L166.5 1059.4 L177.9 1051.6 L189.4 1045.7 L200.8 1040.1 L212.3 1032.3 L223.7 1025.0 L235.2 1019.0 L246.6 1011.7 L258.1 1003.0 L281.0 987.4 L303.9 973.6 L326.8 959.4 L349.7 941.5 L372.6 929.1 L395.5 917.1 L418.4 903.4 L441.3 889.1 L464.2 877.7 L487.1 864.8 L510.0 848.3 L532.9 836.8 L555.8 824.9 L578.7 812.9 L601.6 801.5" fill="none" stroke="#f04a4a" stroke-width="1.8" stroke-linejoin="round"/>
<circle cx="89.2" cy="1094.8" r="4.75" fill="#fff" stroke="#f25a5a" stroke-width="1.1"/>
<circle cx="89.8" cy="1096.1" r="4.75" fill="#fff" stroke="#f25a5a" stroke-width="1.1"/>
<circle cx="90.9" cy="1098.0" r="4.75" fill="#fff" stroke="#f25a5a" stroke-width="1.1"/>
<circle cx="92.1" cy="1099.8" r="4.75" fill="#fff" stroke="#f25a5a" stroke-width="1.1"/>
<circle cx="103.5" cy="1099.8" r="4.75" fill="#fff" stroke="#f25a5a" stroke-width="1.1"/>
<circle cx="109.2" cy="1103.0" r="4.75" fill="#fff" stroke="#f25a5a" stroke-width="1.1"/>
<circle cx="112.1" cy="1102.6" r="4.75" fill="#fff" stroke="#f25a5a" stroke-width="1.1"/>
<circle cx="115.0" cy="1101.2" r="4.75" fill="#fff" stroke="#f25a5a" stroke-width="1.1"/>
<circle cx="117.8" cy="1098.9" r="4.75" fill="#fff" stroke="#f25a5a" stroke-width="1.1"/>
<circle cx="120.7" cy="1096.6" r="4.75" fill="#fff" stroke="#f25a5a" stroke-width="1.1"/>
<circle cx="143.6" cy="1074.1" r="4.75" fill="#fff" stroke="#f25a5a" stroke-width="1.1"/>
<circle cx="155.0" cy="1068.1" r="4.75" fill="#fff" stroke="#f25a5a" stroke-width="1.1"/>
<circle cx="166.5" cy="1059.4" r="4.75" fill="#fff" stroke="#f25a5a" stroke-width="1.1"/>
<circle cx="177.9" cy="1051.6" r="4.75" fill="#fff" stroke="#f25a5a" stroke-width="1.1"/>
<circle cx="189.4" cy="1045.7" r="4.75" fill="#fff" stroke="#f25a5a" stroke-width="1.1"/>
<circle cx="200.8" cy="1040.1" r="4.75" fill="#fff" stroke="#f25a5a" stroke-width="1.1"/>
<circle cx="212.3" cy="1032.3" r="4.75" fill="#fff" stroke="#f25a5a" stroke-width="1.1"/>
<circle cx="223.7" cy="1025.0" r="4.75" fill="#fff" stroke="#f25a5a" stroke-width="1.1"/>
<circle cx="235.2" cy="1019.0" r="4.75" fill="#fff" stroke="#f25a5a" stroke-width="1.1"/>
<circle cx="246.6" cy="1011.7" r="4.75" fill="#fff" stroke="#f25a5a" stroke-width="1.1"/>
<circle cx="258.1" cy="1003.0" r="4.75" fill="#fff" stroke="#f25a5a" stroke-width="1.1"/>
<circle cx="281.0" cy="987.4" r="4.75" fill="#fff" stroke="#f25a5a" stroke-width="1.1"/>
<circle cx="303.9" cy="973.6" r="4.75" fill="#fff" stroke="#f25a5a" stroke-width="1.1"/>
<circle cx="326.8" cy="959.4" r="4.75" fill="#fff" stroke="#f25a5a" stroke-width="1.1"/>
<circle cx="349.7" cy="941.5" r="4.75" fill="#fff" stroke="#f25a5a" stroke-width="1.1"/>
<circle cx="372.6" cy="929.1" r="4.75" fill="#fff" stroke="#f25a5a" stroke-width="1.1"/>
<circle cx="395.5" cy="917.1" r="4.75" fill="#fff" stroke="#f25a5a" stroke-width="1.1"/>
<circle cx="418.4" cy="903.4" r="4.75" fill="#fff" stroke="#f25a5a" stroke-width="1.1"/>
<circle cx="441.3" cy="889.1" r="4.75" fill="#fff" stroke="#f25a5a" stroke-width="1.1"/>
<circle cx="464.2" cy="877.7" r="4.75" fill="#fff" stroke="#f25a5a" stroke-width="1.1"/>
<circle cx="487.1" cy="864.8" r="4.75" fill="#fff" stroke="#f25a5a" stroke-width="1.1"/>
<circle cx="510.0" cy="848.3" r="4.75" fill="#fff" stroke="#f25a5a" stroke-width="1.1"/>
<circle cx="532.9" cy="836.8" r="4.75" fill="#fff" stroke="#f25a5a" stroke-width="1.1"/>
<circle cx="555.8" cy="824.9" r="4.75" fill="#fff" stroke="#f25a5a" stroke-width="1.1"/>
<circle cx="578.7" cy="812.9" r="4.75" fill="#fff" stroke="#f25a5a" stroke-width="1.1"/>
<circle cx="601.6" cy="801.5" r="4.75" fill="#fff" stroke="#f25a5a" stroke-width="1.1"/>
<path d="M89.2 1069.1 L89.8 1070.4 L90.9 1071.8 L92.1 1073.2 L93.2 1074.1 L94.9 1075.5 L97.8 1077.3 L103.5 1078.2 L109.2 1078.7 L115.0 1079.2 L120.7 1079.6 L126.4 1080.5 L132.1 1080.8 L137.9 1081.9 L143.6 1083.3 L152.2 1085.1 L155.0 1075.9 L166.5 1059.0 L177.9 1047.5 L189.4 1042.9 L200.8 1038.3 L212.3 1027.7 L223.7 1020.9 L235.2 1014.0 L246.6 1007.1 L258.1 999.8 L281.0 984.1 L303.9 970.4 L326.8 956.1 L349.7 938.2 L372.6 925.9 L395.5 913.9 L418.4 900.1 L441.3 885.9 L464.2 874.4 L487.1 861.6 L510.0 845.1 L532.9 833.6 L555.8 821.7 L578.7 809.7 L601.6 798.2" fill="none" stroke="#2468e0" stroke-width="1.8" stroke-linejoin="round"/>
<path d="M89.2 1064.1L94.2 1073.1L84.2 1073.1Z" fill="#fff" stroke="#3a7aee" stroke-width="1.1"/>
<path d="M89.8 1065.4L94.8 1074.4L84.8 1074.4Z" fill="#fff" stroke="#3a7aee" stroke-width="1.1"/>
<path d="M90.9 1066.8L95.9 1075.8L85.9 1075.8Z" fill="#fff" stroke="#3a7aee" stroke-width="1.1"/>
<path d="M92.1 1068.2L97.1 1077.2L87.1 1077.2Z" fill="#fff" stroke="#3a7aee" stroke-width="1.1"/>
<path d="M93.2 1069.1L98.2 1078.1L88.2 1078.1Z" fill="#fff" stroke="#3a7aee" stroke-width="1.1"/>
<path d="M94.9 1070.5L99.9 1079.5L89.9 1079.5Z" fill="#fff" stroke="#3a7aee" stroke-width="1.1"/>
<path d="M97.8 1072.3L102.8 1081.3L92.8 1081.3Z" fill="#fff" stroke="#3a7aee" stroke-width="1.1"/>
<path d="M103.5 1073.2L108.5 1082.2L98.5 1082.2Z" fill="#fff" stroke="#3a7aee" stroke-width="1.1"/>
<path d="M109.2 1073.7L114.2 1082.7L104.2 1082.7Z" fill="#fff" stroke="#3a7aee" stroke-width="1.1"/>
<path d="M115.0 1074.2L120.0 1083.2L110.0 1083.2Z" fill="#fff" stroke="#3a7aee" stroke-width="1.1"/>
<path d="M120.7 1074.6L125.7 1083.6L115.7 1083.6Z" fill="#fff" stroke="#3a7aee" stroke-width="1.1"/>
<path d="M126.4 1075.5L131.4 1084.5L121.4 1084.5Z" fill="#fff" stroke="#3a7aee" stroke-width="1.1"/>
<path d="M132.1 1075.8L137.1 1084.8L127.1 1084.8Z" fill="#fff" stroke="#3a7aee" stroke-width="1.1"/>
<path d="M137.9 1076.9L142.9 1085.9L132.9 1085.9Z" fill="#fff" stroke="#3a7aee" stroke-width="1.1"/>
<path d="M143.6 1078.3L148.6 1087.3L138.6 1087.3Z" fill="#fff" stroke="#3a7aee" stroke-width="1.1"/>
<path d="M152.2 1080.1L157.2 1089.1L147.2 1089.1Z" fill="#fff" stroke="#3a7aee" stroke-width="1.1"/>
<path d="M155.0 1070.9L160.0 1079.9L150.0 1079.9Z" fill="#fff" stroke="#3a7aee" stroke-width="1.1"/>
<path d="M166.5 1054.0L171.5 1063.0L161.5 1063.0Z" fill="#fff" stroke="#3a7aee" stroke-width="1.1"/>
<path d="M177.9 1042.5L182.9 1051.5L172.9 1051.5Z" fill="#fff" stroke="#3a7aee" stroke-width="1.1"/>
<path d="M189.4 1037.9L194.4 1046.9L184.4 1046.9Z" fill="#fff" stroke="#3a7aee" stroke-width="1.1"/>
<path d="M200.8 1033.3L205.8 1042.3L195.8 1042.3Z" fill="#fff" stroke="#3a7aee" stroke-width="1.1"/>
<path d="M212.3 1022.7L217.3 1031.7L207.3 1031.7Z" fill="#fff" stroke="#3a7aee" stroke-width="1.1"/>
<path d="M223.7 1015.9L228.7 1024.9L218.7 1024.9Z" fill="#fff" stroke="#3a7aee" stroke-width="1.1"/>
<path d="M235.2 1009.0L240.2 1018.0L230.2 1018.0Z" fill="#fff" stroke="#3a7aee" stroke-width="1.1"/>
<path d="M246.6 1002.1L251.6 1011.1L241.6 1011.1Z" fill="#fff" stroke="#3a7aee" stroke-width="1.1"/>
<path d="M258.1 994.8L263.1 1003.8L253.1 1003.8Z" fill="#fff" stroke="#3a7aee" stroke-width="1.1"/>
<path d="M281.0 979.1L286.0 988.1L276.0 988.1Z" fill="#fff" stroke="#3a7aee" stroke-width="1.1"/>
<path d="M303.9 965.4L308.9 974.4L298.9 974.4Z" fill="#fff" stroke="#3a7aee" stroke-width="1.1"/>
<path d="M326.8 951.1L331.8 960.1L321.8 960.1Z" fill="#fff" stroke="#3a7aee" stroke-width="1.1"/>
<path d="M349.7 933.2L354.7 942.2L344.7 942.2Z" fill="#fff" stroke="#3a7aee" stroke-width="1.1"/>
<path d="M372.6 920.9L377.6 929.9L367.6 929.9Z" fill="#fff" stroke="#3a7aee" stroke-width="1.1"/>
<path d="M395.5 908.9L400.5 917.9L390.5 917.9Z" fill="#fff" stroke="#3a7aee" stroke-width="1.1"/>
<path d="M418.4 895.1L423.4 904.1L413.4 904.1Z" fill="#fff" stroke="#3a7aee" stroke-width="1.1"/>
<path d="M441.3 880.9L446.3 889.9L436.3 889.9Z" fill="#fff" stroke="#3a7aee" stroke-width="1.1"/>
<path d="M464.2 869.4L469.2 878.4L459.2 878.4Z" fill="#fff" stroke="#3a7aee" stroke-width="1.1"/>
<path d="M487.1 856.6L492.1 865.6L482.1 865.6Z" fill="#fff" stroke="#3a7aee" stroke-width="1.1"/>
<path d="M510.0 840.1L515.0 849.1L505.0 849.1Z" fill="#fff" stroke="#3a7aee" stroke-width="1.1"/>
<path d="M532.9 828.6L537.9 837.6L527.9 837.6Z" fill="#fff" stroke="#3a7aee" stroke-width="1.1"/>
<path d="M555.8 816.7L560.8 825.7L550.8 825.7Z" fill="#fff" stroke="#3a7aee" stroke-width="1.1"/>
<path d="M578.7 804.7L583.7 813.7L573.7 813.7Z" fill="#fff" stroke="#3a7aee" stroke-width="1.1"/>
<path d="M601.6 793.2L606.6 802.2L596.6 802.2Z" fill="#fff" stroke="#3a7aee" stroke-width="1.1"/>
<path d="M89.2 1014.4 L89.8 1015.8 L90.9 1017.2 L93.2 1023.2 L97.8 1032.8 L109.2 1039.7 L120.7 1046.6 L132.1 1050.7 L143.6 1051.2 L155.0 1053.5 L177.9 1054.8 L200.8 1055.5 L212.3 1056.2 L218.0 1056.7 L223.7 1040.1 L235.2 1023.6 L246.6 1008.0 L258.1 997.0 L281.0 981.4 L303.9 967.6 L326.8 953.4 L349.7 935.5 L372.6 923.1 L395.5 911.2 L418.4 897.4 L441.3 883.2 L464.2 871.7 L487.1 858.8 L510.0 842.3 L532.9 830.8 L555.8 818.9 L578.7 807.0 L601.6 795.5" fill="none" stroke="#24a05c" stroke-width="1.8" stroke-linejoin="round"/>
<path d="M89.2 1019.7L94.5 1010.2L84.0 1010.2Z" fill="#fff" stroke="#3aac6c" stroke-width="1.1"/>
<path d="M89.8 1021.1L95.0 1011.6L84.5 1011.6Z" fill="#fff" stroke="#3aac6c" stroke-width="1.1"/>
<path d="M90.9 1022.4L96.2 1013.0L85.7 1013.0Z" fill="#fff" stroke="#3aac6c" stroke-width="1.1"/>
<path d="M93.2 1028.4L98.5 1019.0L88.0 1019.0Z" fill="#fff" stroke="#3aac6c" stroke-width="1.1"/>
<path d="M97.8 1038.0L103.0 1028.6L92.5 1028.6Z" fill="#fff" stroke="#3aac6c" stroke-width="1.1"/>
<path d="M109.2 1044.9L114.5 1035.5L104.0 1035.5Z" fill="#fff" stroke="#3aac6c" stroke-width="1.1"/>
<path d="M120.7 1051.8L125.9 1042.4L115.4 1042.4Z" fill="#fff" stroke="#3aac6c" stroke-width="1.1"/>
<path d="M132.1 1055.9L137.4 1046.5L126.9 1046.5Z" fill="#fff" stroke="#3aac6c" stroke-width="1.1"/>
<path d="M143.6 1056.4L148.8 1047.0L138.3 1047.0Z" fill="#fff" stroke="#3aac6c" stroke-width="1.1"/>
<path d="M155.0 1058.7L160.3 1049.3L149.8 1049.3Z" fill="#fff" stroke="#3aac6c" stroke-width="1.1"/>
<path d="M177.9 1060.1L183.2 1050.6L172.7 1050.6Z" fill="#fff" stroke="#3aac6c" stroke-width="1.1"/>
<path d="M200.8 1060.8L206.1 1051.3L195.6 1051.3Z" fill="#fff" stroke="#3aac6c" stroke-width="1.1"/>
<path d="M212.3 1061.5L217.5 1052.0L207.0 1052.0Z" fill="#fff" stroke="#3aac6c" stroke-width="1.1"/>
<path d="M218.0 1061.9L223.3 1052.5L212.8 1052.5Z" fill="#fff" stroke="#3aac6c" stroke-width="1.1"/>
<path d="M223.7 1045.4L229.0 1035.9L218.5 1035.9Z" fill="#fff" stroke="#3aac6c" stroke-width="1.1"/>
<path d="M235.2 1028.9L240.4 1019.4L229.9 1019.4Z" fill="#fff" stroke="#3aac6c" stroke-width="1.1"/>
<path d="M246.6 1013.3L251.9 1003.8L241.4 1003.8Z" fill="#fff" stroke="#3aac6c" stroke-width="1.1"/>
<path d="M258.1 1002.2L263.3 992.8L252.8 992.8Z" fill="#fff" stroke="#3aac6c" stroke-width="1.1"/>
<path d="M281.0 986.6L286.2 977.2L275.7 977.2Z" fill="#fff" stroke="#3aac6c" stroke-width="1.1"/>
<path d="M303.9 972.9L309.1 963.4L298.6 963.4Z" fill="#fff" stroke="#3aac6c" stroke-width="1.1"/>
<path d="M326.8 958.6L332.0 949.2L321.5 949.2Z" fill="#fff" stroke="#3aac6c" stroke-width="1.1"/>
<path d="M349.7 940.7L354.9 931.3L344.4 931.3Z" fill="#fff" stroke="#3aac6c" stroke-width="1.1"/>
<path d="M372.6 928.3L377.8 918.9L367.3 918.9Z" fill="#fff" stroke="#3aac6c" stroke-width="1.1"/>
<path d="M395.5 916.4L400.7 907.0L390.2 907.0Z" fill="#fff" stroke="#3aac6c" stroke-width="1.1"/>
<path d="M418.4 902.6L423.6 893.2L413.1 893.2Z" fill="#fff" stroke="#3aac6c" stroke-width="1.1"/>
<path d="M441.3 888.4L446.5 879.0L436.0 879.0Z" fill="#fff" stroke="#3aac6c" stroke-width="1.1"/>
<path d="M464.2 876.9L469.4 867.5L458.9 867.5Z" fill="#fff" stroke="#3aac6c" stroke-width="1.1"/>
<path d="M487.1 864.1L492.3 854.6L481.8 854.6Z" fill="#fff" stroke="#3aac6c" stroke-width="1.1"/>
<path d="M510.0 847.6L515.2 838.1L504.7 838.1Z" fill="#fff" stroke="#3aac6c" stroke-width="1.1"/>
<path d="M532.9 836.1L538.1 826.6L527.6 826.6Z" fill="#fff" stroke="#3aac6c" stroke-width="1.1"/>
<path d="M555.8 824.2L561.0 814.7L550.5 814.7Z" fill="#fff" stroke="#3aac6c" stroke-width="1.1"/>
<path d="M578.7 812.2L583.9 802.8L573.4 802.8Z" fill="#fff" stroke="#3aac6c" stroke-width="1.1"/>
<path d="M601.6 800.7L606.9 791.3L596.4 791.3Z" fill="#fff" stroke="#3aac6c" stroke-width="1.1"/>
<path d="M283.4 725.0H332.9" stroke="#505050" stroke-width="2.2"/>
<rect x="303.6" y="720.5" width="9" height="9" fill="#fff" stroke="#8a8a8a" stroke-width="1.1"/>
<text x="339.48" y="733.10" style="font-family:'Liberation Serif';font-size:22.50px;white-space:pre;font-style:italic;fill:#111">κ</text>
<text x="349.99" y="723.30" style="font-family:'Liberation Serif';font-size:15.50px;white-space:pre;fill:#111">eff</text>
<text x="350.94" y="738.80" style="font-family:'Liberation Serif';font-size:15.50px;white-space:pre;fill:#111">1,</text>
<text x="364.69" y="738.80" style="font-family:'Liberation Serif';font-size:15.50px;white-space:pre;font-style:italic;fill:#111">xx</text>
<text x="381.60" y="732.30" style="font-family:'Liberation Serif';font-size:21.60px;white-space:pre;fill:#111">(</text>
<text x="388.79" y="732.30" style="font-family:'Liberation Serif';font-size:21.60px;white-space:pre;font-style:italic;fill:#111">w</text>
<text x="403.20" y="732.30" style="font-family:'Liberation Serif';font-size:21.60px;white-space:pre;fill:#111"> = 0.5 mm)</text>
<path d="M283.4 761.0H332.9" stroke="#f04a4a" stroke-width="2.2"/>
<circle cx="308.1" cy="761.0" r="4.5" fill="#fff" stroke="#f25a5a" stroke-width="1.1"/>
<text x="339.48" y="769.15" style="font-family:'Liberation Serif';font-size:22.50px;white-space:pre;font-style:italic;fill:#111">κ</text>
<text x="349.99" y="759.35" style="font-family:'Liberation Serif';font-size:15.50px;white-space:pre;fill:#111">eff</text>
<text x="350.94" y="774.85" style="font-family:'Liberation Serif';font-size:15.50px;white-space:pre;fill:#111">1,</text>
<text x="364.69" y="774.85" style="font-family:'Liberation Serif';font-size:15.50px;white-space:pre;font-style:italic;fill:#111">xx</text>
<text x="381.60" y="768.35" style="font-family:'Liberation Serif';font-size:21.60px;white-space:pre;fill:#111">(</text>
<text x="388.79" y="768.35" style="font-family:'Liberation Serif';font-size:21.60px;white-space:pre;font-style:italic;fill:#111">w</text>
<text x="403.20" y="768.35" style="font-family:'Liberation Serif';font-size:21.60px;white-space:pre;fill:#111"> = 1 mm)</text>
<path d="M283.4 797.1H332.9" stroke="#2468e0" stroke-width="2.2"/>
<path d="M308.1 792.6L312.6 800.7L303.6 800.7Z" fill="#fff" stroke="#3a7aee" stroke-width="1.1"/>
<text x="339.48" y="805.20" style="font-family:'Liberation Serif';font-size:22.50px;white-space:pre;font-style:italic;fill:#111">κ</text>
<text x="349.99" y="795.40" style="font-family:'Liberation Serif';font-size:15.50px;white-space:pre;fill:#111">eff</text>
<text x="350.94" y="810.90" style="font-family:'Liberation Serif';font-size:15.50px;white-space:pre;fill:#111">1,</text>
<text x="364.69" y="810.90" style="font-family:'Liberation Serif';font-size:15.50px;white-space:pre;font-style:italic;fill:#111">xx</text>
<text x="381.60" y="804.40" style="font-family:'Liberation Serif';font-size:21.60px;white-space:pre;fill:#111">(</text>
<text x="388.79" y="804.40" style="font-family:'Liberation Serif';font-size:21.60px;white-space:pre;font-style:italic;fill:#111">w</text>
<text x="403.20" y="804.40" style="font-family:'Liberation Serif';font-size:21.60px;white-space:pre;fill:#111"> = 2 mm)</text>
<path d="M283.4 833.1H332.9" stroke="#24a05c" stroke-width="2.2"/>
<path d="M308.1 837.6L312.6 829.5L303.6 829.5Z" fill="#fff" stroke="#3aac6c" stroke-width="1.1"/>
<text x="339.48" y="841.25" style="font-family:'Liberation Serif';font-size:22.50px;white-space:pre;font-style:italic;fill:#111">κ</text>
<text x="349.99" y="831.45" style="font-family:'Liberation Serif';font-size:15.50px;white-space:pre;fill:#111">eff</text>
<text x="350.94" y="846.95" style="font-family:'Liberation Serif';font-size:15.50px;white-space:pre;fill:#111">1,</text>
<text x="364.69" y="846.95" style="font-family:'Liberation Serif';font-size:15.50px;white-space:pre;font-style:italic;fill:#111">xx</text>
<text x="381.60" y="840.45" style="font-family:'Liberation Serif';font-size:21.60px;white-space:pre;fill:#111">(</text>
<text x="388.79" y="840.45" style="font-family:'Liberation Serif';font-size:21.60px;white-space:pre;font-style:italic;fill:#111">w</text>
<text x="403.20" y="840.45" style="font-family:'Liberation Serif';font-size:21.60px;white-space:pre;fill:#111"> = 4 mm)</text>
<text x="264.58" y="1172.60" style="font-family:'Liberation Serif';font-size:26.50px;white-space:pre;font-style:italic;fill:#111">Δ</text>
<text transform="translate(281.16,1172.83) scale(1.2735,1)" style="stroke:#fff;stroke-width:0.35;font-family:'Liberation Serif';font-size:27.93px;white-space:pre;font-style:italic;fill:#111">θ</text>
<path d="M302.8 1164.2h14.8M302.8 1168.6h14.8" stroke="#111" stroke-width="1.5"/>
<text transform="translate(324.10,1172.83) scale(1.1709,1)" style="stroke:#fff;stroke-width:0.35;font-family:'Liberation Serif';font-size:27.93px;white-space:pre;font-style:italic;fill:#111">θ</text>
<text x="338.69" y="1178.10" style="font-family:'Liberation Serif';font-size:18.30px;white-space:pre;fill:#111">1</text>
<path d="M351.1 1166.1h13.7" stroke="#111" stroke-width="1.5"/>
<text transform="translate(371.31,1172.83) scale(1.1624,1)" style="stroke:#fff;stroke-width:0.35;font-family:'Liberation Serif';font-size:27.93px;white-space:pre;font-style:italic;fill:#111">θ</text>
<text x="384.00" y="1178.10" style="font-family:'Liberation Serif';font-size:18.30px;white-space:pre;fill:#111">2</text>
<text x="401.68" y="1172.00" style="font-family:'Liberation Serif';font-size:21.00px;white-space:pre;fill:#111">(</text>
<text x="408.40" y="1169.10" style="font-family:'Liberation Serif';font-size:21.00px;white-space:pre;fill:#111">°</text>
<text x="420.32" y="1172.00" style="font-family:'Liberation Serif';font-size:21.00px;white-space:pre;fill:#111">)</text>
<g transform="translate(44,1001) rotate(-90)"><text x="-1.06" y="0.00" style="font-family:'Liberation Serif';font-size:29.00px;white-space:pre;font-style:italic;fill:#111">κ</text><text x="10.76" y="-12.00" style="font-family:'Liberation Serif';font-size:19.00px;white-space:pre;fill:#111">eff</text><text x="11.33" y="8.50" style="font-family:'Liberation Serif';font-size:19.00px;white-space:pre;fill:#111">1,</text><text x="28.73" y="8.50" style="font-family:'Liberation Serif';font-size:19.00px;white-space:pre;font-style:italic;fill:#111">xx</text><text x="51.00" y="-1.80" style="font-family:'Liberation Serif';font-size:28.00px;white-space:pre;fill:#111">(W·m</text><text x="117.86" y="-13.00" style="font-family:'Liberation Serif';font-size:17.00px;white-space:pre;fill:#111">-1</text><text x="132.02" y="-1.80" style="font-family:'Liberation Serif';font-size:28.00px;white-space:pre;fill:#111">·K</text><text x="161.56" y="-13.00" style="font-family:'Liberation Serif';font-size:17.00px;white-space:pre;fill:#111">-1</text><text x="175.72" y="-1.80" style="font-family:'Liberation Serif';font-size:28.00px;white-space:pre;fill:#111">)</text></g>
<rect x="826" y="697" width="512.40" height="413.60" fill="none" stroke="#2a2a2a" stroke-width="1.8"/>
<path d="M882.9 1110.6v-8M939.9 1110.6v-8M996.8 1110.6v-8M1053.7 1110.6v-8M1110.7 1110.6v-8M1167.6 1110.6v-8M1224.5 1110.6v-8M1281.5 1110.6v-8M854.5 1110.6v-4M911.4 1110.6v-4M968.3 1110.6v-4M1025.3 1110.6v-4M1082.2 1110.6v-4M1139.1 1110.6v-4M1196.1 1110.6v-4M1253.0 1110.6v-4M1309.9 1110.6v-4M826 1027.9h8M826 945.2h8M826 862.4h8M826 779.7h8M826 1069.2h4M826 986.5h4M826 903.8h4M826 821.1h4M826 738.4h4" stroke="#2a2a2a" stroke-width="1.6"/>
<text x="820.12" y="1137.80" style="font-family:'Liberation Serif';font-size:23.50px;white-space:pre;fill:#111">0</text>
<text x="870.60" y="1137.80" style="font-family:'Liberation Serif';font-size:23.50px;white-space:pre;fill:#111">10</text>
<text x="928.05" y="1137.80" style="font-family:'Liberation Serif';font-size:23.50px;white-space:pre;fill:#111">20</text>
<text x="984.94" y="1137.80" style="font-family:'Liberation Serif';font-size:23.50px;white-space:pre;fill:#111">30</text>
<text x="1042.20" y="1137.80" style="font-family:'Liberation Serif';font-size:23.50px;white-space:pre;fill:#111">40</text>
<text x="1098.68" y="1137.80" style="font-family:'Liberation Serif';font-size:23.50px;white-space:pre;fill:#111">50</text>
<text x="1155.79" y="1137.80" style="font-family:'Liberation Serif';font-size:23.50px;white-space:pre;fill:#111">60</text>
<text x="1212.46" y="1137.80" style="font-family:'Liberation Serif';font-size:23.50px;white-space:pre;fill:#111">70</text>
<text x="1269.72" y="1137.80" style="font-family:'Liberation Serif';font-size:23.50px;white-space:pre;fill:#111">80</text>
<text x="1326.72" y="1137.80" style="font-family:'Liberation Serif';font-size:23.50px;white-space:pre;fill:#111">90</text>
<text x="805.85" y="1118.20" style="font-family:'Liberation Serif';font-size:23.50px;white-space:pre;fill:#111">0</text>
<text x="806.36" y="1035.48" style="font-family:'Liberation Serif';font-size:23.50px;white-space:pre;fill:#111">1</text>
<text x="806.25" y="952.76" style="font-family:'Liberation Serif';font-size:23.50px;white-space:pre;fill:#111">2</text>
<text x="805.87" y="870.04" style="font-family:'Liberation Serif';font-size:23.50px;white-space:pre;fill:#111">3</text>
<text x="805.32" y="787.32" style="font-family:'Liberation Serif';font-size:23.50px;white-space:pre;fill:#111">4</text>
<text x="805.87" y="704.60" style="font-family:'Liberation Serif';font-size:23.50px;white-space:pre;fill:#111">5</text>
<path d="M826.0 1094.1 L826.2 890.6 L826.3 862.4 L826.5 828.5 L826.7 817.8 L827.1 781.4 L828.4 751.6 L831.9 734.2 L837.6 725.1 L842.2 715.2 L843.2 766.5 L849.0 838.5 L859.9 884.8 L873.0 931.1 L884.1 963.4 L894.7 979.9 L906.3 994.0 L917.7 1007.2 L929.6 1017.1 L940.4 1022.9 L951.8 1029.5 L962.6 1035.3 L974.0 1040.3 L985.4 1045.3 L996.8 1052.7 L1019.6 1058.3 L1042.3 1062.8 L1065.1 1066.5 L1087.9 1069.7 L1110.7 1072.3 L1133.4 1074.6 L1156.2 1076.6 L1179.0 1078.4 L1201.8 1079.9 L1224.5 1081.3 L1247.3 1082.6 L1270.1 1083.7 L1292.9 1084.8 L1315.6 1085.7 L1338.4 1086.6" fill="none" stroke="#505050" stroke-width="1.6" stroke-linejoin="round"/>
<rect x="823.5" y="1091.6" width="5" height="5" fill="#fff" stroke="#8a8a8a" stroke-width="1.0"/>
<rect x="823.7" y="888.1" width="5" height="5" fill="#fff" stroke="#8a8a8a" stroke-width="1.0"/>
<rect x="823.8" y="859.9" width="5" height="5" fill="#fff" stroke="#8a8a8a" stroke-width="1.0"/>
<rect x="824.0" y="826.0" width="5" height="5" fill="#fff" stroke="#8a8a8a" stroke-width="1.0"/>
<rect x="824.2" y="815.3" width="5" height="5" fill="#fff" stroke="#8a8a8a" stroke-width="1.0"/>
<rect x="824.6" y="778.9" width="5" height="5" fill="#fff" stroke="#8a8a8a" stroke-width="1.0"/>
<rect x="825.9" y="749.1" width="5" height="5" fill="#fff" stroke="#8a8a8a" stroke-width="1.0"/>
<rect x="829.4" y="731.7" width="5" height="5" fill="#fff" stroke="#8a8a8a" stroke-width="1.0"/>
<rect x="835.1" y="722.6" width="5" height="5" fill="#fff" stroke="#8a8a8a" stroke-width="1.0"/>
<rect x="839.7" y="712.7" width="5" height="5" fill="#fff" stroke="#8a8a8a" stroke-width="1.0"/>
<rect x="840.7" y="764.0" width="5" height="5" fill="#fff" stroke="#8a8a8a" stroke-width="1.0"/>
<rect x="846.5" y="836.0" width="5" height="5" fill="#fff" stroke="#8a8a8a" stroke-width="1.0"/>
<rect x="857.4" y="882.3" width="5" height="5" fill="#fff" stroke="#8a8a8a" stroke-width="1.0"/>
<rect x="870.5" y="928.6" width="5" height="5" fill="#fff" stroke="#8a8a8a" stroke-width="1.0"/>
<rect x="881.6" y="960.9" width="5" height="5" fill="#fff" stroke="#8a8a8a" stroke-width="1.0"/>
<rect x="892.2" y="977.4" width="5" height="5" fill="#fff" stroke="#8a8a8a" stroke-width="1.0"/>
<rect x="903.8" y="991.5" width="5" height="5" fill="#fff" stroke="#8a8a8a" stroke-width="1.0"/>
<rect x="915.2" y="1004.7" width="5" height="5" fill="#fff" stroke="#8a8a8a" stroke-width="1.0"/>
<rect x="927.1" y="1014.6" width="5" height="5" fill="#fff" stroke="#8a8a8a" stroke-width="1.0"/>
<rect x="937.9" y="1020.4" width="5" height="5" fill="#fff" stroke="#8a8a8a" stroke-width="1.0"/>
<rect x="949.3" y="1027.0" width="5" height="5" fill="#fff" stroke="#8a8a8a" stroke-width="1.0"/>
<rect x="960.1" y="1032.8" width="5" height="5" fill="#fff" stroke="#8a8a8a" stroke-width="1.0"/>
<rect x="971.5" y="1037.8" width="5" height="5" fill="#fff" stroke="#8a8a8a" stroke-width="1.0"/>
<rect x="982.9" y="1042.8" width="5" height="5" fill="#fff" stroke="#8a8a8a" stroke-width="1.0"/>
<rect x="994.3" y="1050.2" width="5" height="5" fill="#fff" stroke="#8a8a8a" stroke-width="1.0"/>
<rect x="1017.1" y="1055.8" width="5" height="5" fill="#fff" stroke="#8a8a8a" stroke-width="1.0"/>
<rect x="1039.8" y="1060.3" width="5" height="5" fill="#fff" stroke="#8a8a8a" stroke-width="1.0"/>
<rect x="1062.6" y="1064.0" width="5" height="5" fill="#fff" stroke="#8a8a8a" stroke-width="1.0"/>
<rect x="1085.4" y="1067.2" width="5" height="5" fill="#fff" stroke="#8a8a8a" stroke-width="1.0"/>
<rect x="1108.2" y="1069.8" width="5" height="5" fill="#fff" stroke="#8a8a8a" stroke-width="1.0"/>
<rect x="1130.9" y="1072.1" width="5" height="5" fill="#fff" stroke="#8a8a8a" stroke-width="1.0"/>
<rect x="1153.7" y="1074.1" width="5" height="5" fill="#fff" stroke="#8a8a8a" stroke-width="1.0"/>
<rect x="1176.5" y="1075.9" width="5" height="5" fill="#fff" stroke="#8a8a8a" stroke-width="1.0"/>
<rect x="1199.3" y="1077.4" width="5" height="5" fill="#fff" stroke="#8a8a8a" stroke-width="1.0"/>
<rect x="1222.0" y="1078.8" width="5" height="5" fill="#fff" stroke="#8a8a8a" stroke-width="1.0"/>
<rect x="1244.8" y="1080.1" width="5" height="5" fill="#fff" stroke="#8a8a8a" stroke-width="1.0"/>
<rect x="1267.6" y="1081.2" width="5" height="5" fill="#fff" stroke="#8a8a8a" stroke-width="1.0"/>
<rect x="1290.4" y="1082.3" width="5" height="5" fill="#fff" stroke="#8a8a8a" stroke-width="1.0"/>
<rect x="1313.1" y="1083.2" width="5" height="5" fill="#fff" stroke="#8a8a8a" stroke-width="1.0"/>
<rect x="1335.9" y="1084.1" width="5" height="5" fill="#fff" stroke="#8a8a8a" stroke-width="1.0"/>
<path d="M826.0 1094.1 L826.1 1006.4 L826.2 967.5 L826.3 946.0 L826.5 933.6 L826.5 917.9 L827.1 888.1 L828.1 870.7 L830.2 855.8 L831.9 838.5 L842.9 836.0 L858.2 828.5 L860.5 867.4 L871.8 938.5 L883.2 967.5 L894.7 984.0 L905.7 996.4 L917.1 1008.0 L928.5 1018.0 L939.9 1024.6 L951.3 1030.4 L962.6 1036.2 L974.0 1041.1 L985.4 1046.1 L996.8 1053.5 L1019.6 1059.1 L1042.3 1063.7 L1065.1 1067.4 L1087.9 1070.5 L1110.7 1073.1 L1133.4 1075.4 L1156.2 1077.4 L1179.0 1079.2 L1201.8 1080.8 L1224.5 1082.2 L1247.3 1083.4 L1270.1 1084.6 L1292.9 1085.6 L1315.6 1086.5 L1338.4 1087.4" fill="none" stroke="#f04a4a" stroke-width="1.6" stroke-linejoin="round"/>
<circle cx="826.0" cy="1094.1" r="2.75" fill="#fff" stroke="#f25a5a" stroke-width="1.0"/>
<circle cx="826.1" cy="1006.4" r="2.75" fill="#fff" stroke="#f25a5a" stroke-width="1.0"/>
<circle cx="826.2" cy="967.5" r="2.75" fill="#fff" stroke="#f25a5a" stroke-width="1.0"/>
<circle cx="826.3" cy="946.0" r="2.75" fill="#fff" stroke="#f25a5a" stroke-width="1.0"/>
<circle cx="826.5" cy="933.6" r="2.75" fill="#fff" stroke="#f25a5a" stroke-width="1.0"/>
<circle cx="826.5" cy="917.9" r="2.75" fill="#fff" stroke="#f25a5a" stroke-width="1.0"/>
<circle cx="827.1" cy="888.1" r="2.75" fill="#fff" stroke="#f25a5a" stroke-width="1.0"/>
<circle cx="828.1" cy="870.7" r="2.75" fill="#fff" stroke="#f25a5a" stroke-width="1.0"/>
<circle cx="830.2" cy="855.8" r="2.75" fill="#fff" stroke="#f25a5a" stroke-width="1.0"/>
<circle cx="831.9" cy="838.5" r="2.75" fill="#fff" stroke="#f25a5a" stroke-width="1.0"/>
<circle cx="842.9" cy="836.0" r="2.75" fill="#fff" stroke="#f25a5a" stroke-width="1.0"/>
<circle cx="858.2" cy="828.5" r="2.75" fill="#fff" stroke="#f25a5a" stroke-width="1.0"/>
<circle cx="860.5" cy="867.4" r="2.75" fill="#fff" stroke="#f25a5a" stroke-width="1.0"/>
<circle cx="871.8" cy="938.5" r="2.75" fill="#fff" stroke="#f25a5a" stroke-width="1.0"/>
<circle cx="883.2" cy="967.5" r="2.75" fill="#fff" stroke="#f25a5a" stroke-width="1.0"/>
<circle cx="894.7" cy="984.0" r="2.75" fill="#fff" stroke="#f25a5a" stroke-width="1.0"/>
<circle cx="905.7" cy="996.4" r="2.75" fill="#fff" stroke="#f25a5a" stroke-width="1.0"/>
<circle cx="917.1" cy="1008.0" r="2.75" fill="#fff" stroke="#f25a5a" stroke-width="1.0"/>
<circle cx="928.5" cy="1018.0" r="2.75" fill="#fff" stroke="#f25a5a" stroke-width="1.0"/>
<circle cx="939.9" cy="1024.6" r="2.75" fill="#fff" stroke="#f25a5a" stroke-width="1.0"/>
<circle cx="951.3" cy="1030.4" r="2.75" fill="#fff" stroke="#f25a5a" stroke-width="1.0"/>
<circle cx="962.6" cy="1036.2" r="2.75" fill="#fff" stroke="#f25a5a" stroke-width="1.0"/>
<circle cx="974.0" cy="1041.1" r="2.75" fill="#fff" stroke="#f25a5a" stroke-width="1.0"/>
<circle cx="985.4" cy="1046.1" r="2.75" fill="#fff" stroke="#f25a5a" stroke-width="1.0"/>
<circle cx="996.8" cy="1053.5" r="2.75" fill="#fff" stroke="#f25a5a" stroke-width="1.0"/>
<circle cx="1019.6" cy="1059.1" r="2.75" fill="#fff" stroke="#f25a5a" stroke-width="1.0"/>
<circle cx="1042.3" cy="1063.7" r="2.75" fill="#fff" stroke="#f25a5a" stroke-width="1.0"/>
<circle cx="1065.1" cy="1067.4" r="2.75" fill="#fff" stroke="#f25a5a" stroke-width="1.0"/>
<circle cx="1087.9" cy="1070.5" r="2.75" fill="#fff" stroke="#f25a5a" stroke-width="1.0"/>
<circle cx="1110.7" cy="1073.1" r="2.75" fill="#fff" stroke="#f25a5a" stroke-width="1.0"/>
<circle cx="1133.4" cy="1075.4" r="2.75" fill="#fff" stroke="#f25a5a" stroke-width="1.0"/>
<circle cx="1156.2" cy="1077.4" r="2.75" fill="#fff" stroke="#f25a5a" stroke-width="1.0"/>
<circle cx="1179.0" cy="1079.2" r="2.75" fill="#fff" stroke="#f25a5a" stroke-width="1.0"/>
<circle cx="1201.8" cy="1080.8" r="2.75" fill="#fff" stroke="#f25a5a" stroke-width="1.0"/>
<circle cx="1224.5" cy="1082.2" r="2.75" fill="#fff" stroke="#f25a5a" stroke-width="1.0"/>
<circle cx="1247.3" cy="1083.4" r="2.75" fill="#fff" stroke="#f25a5a" stroke-width="1.0"/>
<circle cx="1270.1" cy="1084.6" r="2.75" fill="#fff" stroke="#f25a5a" stroke-width="1.0"/>
<circle cx="1292.9" cy="1085.6" r="2.75" fill="#fff" stroke="#f25a5a" stroke-width="1.0"/>
<circle cx="1315.6" cy="1086.5" r="2.75" fill="#fff" stroke="#f25a5a" stroke-width="1.0"/>
<circle cx="1338.4" cy="1087.4" r="2.75" fill="#fff" stroke="#f25a5a" stroke-width="1.0"/>
<path d="M826.0 1094.1 L826.1 1032.0 L826.3 1019.6 L826.5 1011.3 L826.6 1003.1 L826.9 996.4 L827.1 990.7 L827.7 984.9 L828.3 979.9 L829.4 974.9 L830.6 970.0 L832.8 965.0 L837.8 959.2 L842.9 952.6 L848.9 951.0 L854.8 949.3 L860.7 947.6 L866.7 946.8 L871.8 946.0 L877.7 943.5 L883.5 939.4 L891.5 932.8 L894.3 963.4 L905.7 1000.6 L916.5 1013.8 L928.5 1019.6 L940.4 1025.4 L950.7 1033.7 L962.1 1039.5 L973.5 1041.9 L985.4 1046.9 L996.8 1054.8 L1019.6 1060.4 L1042.3 1064.9 L1065.1 1068.6 L1087.9 1071.7 L1110.7 1074.4 L1133.4 1076.7 L1156.2 1078.7 L1179.0 1080.4 L1201.8 1082.0 L1224.5 1083.4 L1247.3 1084.7 L1270.1 1085.8 L1292.9 1086.8 L1315.6 1087.8 L1338.4 1088.7" fill="none" stroke="#2468e0" stroke-width="1.6" stroke-linejoin="round"/>
<path d="M826.0 1090.8L829.2 1096.7L822.8 1096.7Z" fill="#fff" stroke="#3a7aee" stroke-width="1.0"/>
<path d="M826.1 1028.8L829.4 1034.6L822.9 1034.6Z" fill="#fff" stroke="#3a7aee" stroke-width="1.0"/>
<path d="M826.3 1016.4L829.5 1022.2L823.0 1022.2Z" fill="#fff" stroke="#3a7aee" stroke-width="1.0"/>
<path d="M826.5 1008.1L829.7 1013.9L823.2 1013.9Z" fill="#fff" stroke="#3a7aee" stroke-width="1.0"/>
<path d="M826.6 999.8L829.8 1005.7L823.3 1005.7Z" fill="#fff" stroke="#3a7aee" stroke-width="1.0"/>
<path d="M826.9 993.2L830.1 999.0L823.6 999.0Z" fill="#fff" stroke="#3a7aee" stroke-width="1.0"/>
<path d="M827.1 987.4L830.4 993.3L823.9 993.3Z" fill="#fff" stroke="#3a7aee" stroke-width="1.0"/>
<path d="M827.7 981.6L831.0 987.5L824.5 987.5Z" fill="#fff" stroke="#3a7aee" stroke-width="1.0"/>
<path d="M828.3 976.7L831.5 982.5L825.0 982.5Z" fill="#fff" stroke="#3a7aee" stroke-width="1.0"/>
<path d="M829.4 971.7L832.7 977.5L826.2 977.5Z" fill="#fff" stroke="#3a7aee" stroke-width="1.0"/>
<path d="M830.6 966.7L833.8 972.6L827.3 972.6Z" fill="#fff" stroke="#3a7aee" stroke-width="1.0"/>
<path d="M832.8 961.8L836.1 967.6L829.6 967.6Z" fill="#fff" stroke="#3a7aee" stroke-width="1.0"/>
<path d="M837.8 956.0L841.0 961.8L834.5 961.8Z" fill="#fff" stroke="#3a7aee" stroke-width="1.0"/>
<path d="M842.9 949.4L846.2 955.2L839.7 955.2Z" fill="#fff" stroke="#3a7aee" stroke-width="1.0"/>
<path d="M848.9 947.7L852.1 953.6L845.6 953.6Z" fill="#fff" stroke="#3a7aee" stroke-width="1.0"/>
<path d="M854.8 946.0L858.1 951.9L851.6 951.9Z" fill="#fff" stroke="#3a7aee" stroke-width="1.0"/>
<path d="M860.7 944.4L864.0 950.2L857.5 950.2Z" fill="#fff" stroke="#3a7aee" stroke-width="1.0"/>
<path d="M866.7 943.6L870.0 949.4L863.5 949.4Z" fill="#fff" stroke="#3a7aee" stroke-width="1.0"/>
<path d="M871.8 942.7L875.1 948.6L868.6 948.6Z" fill="#fff" stroke="#3a7aee" stroke-width="1.0"/>
<path d="M877.7 940.3L880.9 946.1L874.4 946.1Z" fill="#fff" stroke="#3a7aee" stroke-width="1.0"/>
<path d="M883.5 936.1L886.8 942.0L880.3 942.0Z" fill="#fff" stroke="#3a7aee" stroke-width="1.0"/>
<path d="M891.5 929.5L894.7 935.4L888.2 935.4Z" fill="#fff" stroke="#3a7aee" stroke-width="1.0"/>
<path d="M894.3 960.1L897.6 966.0L891.1 966.0Z" fill="#fff" stroke="#3a7aee" stroke-width="1.0"/>
<path d="M905.7 997.3L909.0 1003.2L902.5 1003.2Z" fill="#fff" stroke="#3a7aee" stroke-width="1.0"/>
<path d="M916.5 1010.6L919.8 1016.4L913.3 1016.4Z" fill="#fff" stroke="#3a7aee" stroke-width="1.0"/>
<path d="M928.5 1016.4L931.7 1022.2L925.2 1022.2Z" fill="#fff" stroke="#3a7aee" stroke-width="1.0"/>
<path d="M940.4 1022.1L943.7 1028.0L937.2 1028.0Z" fill="#fff" stroke="#3a7aee" stroke-width="1.0"/>
<path d="M950.7 1030.4L953.9 1036.3L947.4 1036.3Z" fill="#fff" stroke="#3a7aee" stroke-width="1.0"/>
<path d="M962.1 1036.2L965.3 1042.1L958.8 1042.1Z" fill="#fff" stroke="#3a7aee" stroke-width="1.0"/>
<path d="M973.5 1038.7L976.7 1044.5L970.2 1044.5Z" fill="#fff" stroke="#3a7aee" stroke-width="1.0"/>
<path d="M985.4 1043.7L988.7 1049.5L982.2 1049.5Z" fill="#fff" stroke="#3a7aee" stroke-width="1.0"/>
<path d="M996.8 1051.5L1000.1 1057.4L993.6 1057.4Z" fill="#fff" stroke="#3a7aee" stroke-width="1.0"/>
<path d="M1019.6 1057.1L1022.8 1063.0L1016.3 1063.0Z" fill="#fff" stroke="#3a7aee" stroke-width="1.0"/>
<path d="M1042.3 1061.6L1045.6 1067.5L1039.1 1067.5Z" fill="#fff" stroke="#3a7aee" stroke-width="1.0"/>
<path d="M1065.1 1065.4L1068.4 1071.2L1061.9 1071.2Z" fill="#fff" stroke="#3a7aee" stroke-width="1.0"/>
<path d="M1087.9 1068.5L1091.1 1074.3L1084.6 1074.3Z" fill="#fff" stroke="#3a7aee" stroke-width="1.0"/>
<path d="M1110.7 1071.1L1113.9 1077.0L1107.4 1077.0Z" fill="#fff" stroke="#3a7aee" stroke-width="1.0"/>
<path d="M1133.4 1073.4L1136.7 1079.3L1130.2 1079.3Z" fill="#fff" stroke="#3a7aee" stroke-width="1.0"/>
<path d="M1156.2 1075.4L1159.5 1081.3L1153.0 1081.3Z" fill="#fff" stroke="#3a7aee" stroke-width="1.0"/>
<path d="M1179.0 1077.2L1182.2 1083.0L1175.7 1083.0Z" fill="#fff" stroke="#3a7aee" stroke-width="1.0"/>
<path d="M1201.8 1078.8L1205.0 1084.6L1198.5 1084.6Z" fill="#fff" stroke="#3a7aee" stroke-width="1.0"/>
<path d="M1224.5 1080.2L1227.8 1086.0L1221.3 1086.0Z" fill="#fff" stroke="#3a7aee" stroke-width="1.0"/>
<path d="M1247.3 1081.4L1250.6 1087.3L1244.1 1087.3Z" fill="#fff" stroke="#3a7aee" stroke-width="1.0"/>
<path d="M1270.1 1082.6L1273.3 1088.4L1266.8 1088.4Z" fill="#fff" stroke="#3a7aee" stroke-width="1.0"/>
<path d="M1292.9 1083.6L1296.1 1089.4L1289.6 1089.4Z" fill="#fff" stroke="#3a7aee" stroke-width="1.0"/>
<path d="M1315.6 1084.5L1318.9 1090.4L1312.4 1090.4Z" fill="#fff" stroke="#3a7aee" stroke-width="1.0"/>
<path d="M1338.4 1085.4L1341.7 1091.3L1335.2 1091.3Z" fill="#fff" stroke="#3a7aee" stroke-width="1.0"/>
<path d="M826.0 1094.1 L826.2 1073.4 L826.3 1064.3 L826.6 1059.3 L826.9 1054.4 L827.1 1051.0 L827.7 1047.7 L828.6 1044.4 L830.0 1041.1 L831.7 1038.6 L837.4 1033.7 L848.0 1027.1 L859.9 1021.3 L871.0 1015.5 L882.8 1015.5 L894.7 1011.3 L917.7 1009.7 L939.9 1008.9 L955.8 1008.0 L962.1 1026.2 L973.5 1039.5 L984.8 1049.4 L996.8 1056.0 L1019.6 1061.6 L1042.3 1066.1 L1065.1 1069.9 L1087.9 1073.0 L1110.7 1075.6 L1133.4 1077.9 L1156.2 1079.9 L1179.0 1081.7 L1201.8 1083.2 L1224.5 1084.6 L1247.3 1085.9 L1270.1 1087.0 L1292.9 1088.1 L1315.6 1089.0 L1338.4 1089.9" fill="none" stroke="#24a05c" stroke-width="1.6" stroke-linejoin="round"/>
<path d="M822.8 1094.1L828.6 1090.8L828.6 1097.3Z" fill="#fff" stroke="#3aac6c" stroke-width="1.0"/>
<path d="M822.9 1073.4L828.8 1070.1L828.8 1076.6Z" fill="#fff" stroke="#3aac6c" stroke-width="1.0"/>
<path d="M823.1 1064.3L828.9 1061.0L828.9 1067.5Z" fill="#fff" stroke="#3aac6c" stroke-width="1.0"/>
<path d="M823.3 1059.3L829.2 1056.1L829.2 1062.6Z" fill="#fff" stroke="#3aac6c" stroke-width="1.0"/>
<path d="M823.6 1054.4L829.5 1051.1L829.5 1057.6Z" fill="#fff" stroke="#3aac6c" stroke-width="1.0"/>
<path d="M823.9 1051.0L829.7 1047.8L829.7 1054.3Z" fill="#fff" stroke="#3aac6c" stroke-width="1.0"/>
<path d="M824.5 1047.7L830.3 1044.5L830.3 1051.0Z" fill="#fff" stroke="#3aac6c" stroke-width="1.0"/>
<path d="M825.3 1044.4L831.2 1041.2L831.2 1047.7Z" fill="#fff" stroke="#3aac6c" stroke-width="1.0"/>
<path d="M826.7 1041.1L832.6 1037.9L832.6 1044.4Z" fill="#fff" stroke="#3aac6c" stroke-width="1.0"/>
<path d="M828.4 1038.6L834.3 1035.4L834.3 1041.9Z" fill="#fff" stroke="#3aac6c" stroke-width="1.0"/>
<path d="M834.1 1033.7L840.0 1030.4L840.0 1036.9Z" fill="#fff" stroke="#3aac6c" stroke-width="1.0"/>
<path d="M844.7 1027.1L850.6 1023.8L850.6 1030.3Z" fill="#fff" stroke="#3aac6c" stroke-width="1.0"/>
<path d="M856.7 1021.3L862.5 1018.0L862.5 1024.5Z" fill="#fff" stroke="#3aac6c" stroke-width="1.0"/>
<path d="M867.7 1015.5L873.6 1012.2L873.6 1018.7Z" fill="#fff" stroke="#3aac6c" stroke-width="1.0"/>
<path d="M879.6 1015.5L885.4 1012.2L885.4 1018.7Z" fill="#fff" stroke="#3aac6c" stroke-width="1.0"/>
<path d="M891.5 1011.3L897.3 1008.1L897.3 1014.6Z" fill="#fff" stroke="#3aac6c" stroke-width="1.0"/>
<path d="M914.4 1009.7L920.3 1006.4L920.3 1012.9Z" fill="#fff" stroke="#3aac6c" stroke-width="1.0"/>
<path d="M936.6 1008.9L942.5 1005.6L942.5 1012.1Z" fill="#fff" stroke="#3aac6c" stroke-width="1.0"/>
<path d="M952.6 1008.0L958.4 1004.8L958.4 1011.3Z" fill="#fff" stroke="#3aac6c" stroke-width="1.0"/>
<path d="M958.8 1026.2L964.7 1023.0L964.7 1029.5Z" fill="#fff" stroke="#3aac6c" stroke-width="1.0"/>
<path d="M970.2 1039.5L976.1 1036.2L976.1 1042.7Z" fill="#fff" stroke="#3aac6c" stroke-width="1.0"/>
<path d="M981.6 1049.4L987.4 1046.1L987.4 1052.6Z" fill="#fff" stroke="#3aac6c" stroke-width="1.0"/>
<path d="M993.6 1056.0L999.4 1052.8L999.4 1059.3Z" fill="#fff" stroke="#3aac6c" stroke-width="1.0"/>
<path d="M1016.3 1061.6L1022.2 1058.4L1022.2 1064.9Z" fill="#fff" stroke="#3aac6c" stroke-width="1.0"/>
<path d="M1039.1 1066.1L1044.9 1062.9L1044.9 1069.4Z" fill="#fff" stroke="#3aac6c" stroke-width="1.0"/>
<path d="M1061.9 1069.9L1067.7 1066.6L1067.7 1073.1Z" fill="#fff" stroke="#3aac6c" stroke-width="1.0"/>
<path d="M1084.6 1073.0L1090.5 1069.7L1090.5 1076.2Z" fill="#fff" stroke="#3aac6c" stroke-width="1.0"/>
<path d="M1107.4 1075.6L1113.3 1072.4L1113.3 1078.9Z" fill="#fff" stroke="#3aac6c" stroke-width="1.0"/>
<path d="M1130.2 1077.9L1136.0 1074.7L1136.0 1081.2Z" fill="#fff" stroke="#3aac6c" stroke-width="1.0"/>
<path d="M1153.0 1079.9L1158.8 1076.7L1158.8 1083.2Z" fill="#fff" stroke="#3aac6c" stroke-width="1.0"/>
<path d="M1175.7 1081.7L1181.6 1078.4L1181.6 1084.9Z" fill="#fff" stroke="#3aac6c" stroke-width="1.0"/>
<path d="M1198.5 1083.2L1204.4 1080.0L1204.4 1086.5Z" fill="#fff" stroke="#3aac6c" stroke-width="1.0"/>
<path d="M1221.3 1084.6L1227.1 1081.4L1227.1 1087.9Z" fill="#fff" stroke="#3aac6c" stroke-width="1.0"/>
<path d="M1244.1 1085.9L1249.9 1082.7L1249.9 1089.2Z" fill="#fff" stroke="#3aac6c" stroke-width="1.0"/>
<path d="M1266.8 1087.0L1272.7 1083.8L1272.7 1090.3Z" fill="#fff" stroke="#3aac6c" stroke-width="1.0"/>
<path d="M1289.6 1088.1L1295.5 1084.8L1295.5 1091.3Z" fill="#fff" stroke="#3aac6c" stroke-width="1.0"/>
<path d="M1312.4 1089.0L1318.2 1085.8L1318.2 1092.3Z" fill="#fff" stroke="#3aac6c" stroke-width="1.0"/>
<path d="M1335.2 1089.9L1341.0 1086.7L1341.0 1093.2Z" fill="#fff" stroke="#3aac6c" stroke-width="1.0"/>
<circle cx="842.2" cy="715.2" r="9" fill="none" stroke="#c83cf5" stroke-width="2.2"/>
<circle cx="858.2" cy="828.5" r="9" fill="none" stroke="#c83cf5" stroke-width="2.2"/>
<circle cx="891.5" cy="932.8" r="9" fill="none" stroke="#c83cf5" stroke-width="2.2"/>
<circle cx="956.4" cy="1007.6" r="9" fill="none" stroke="#c83cf5" stroke-width="2.2"/>
<path d="M963.6 722.0H1012.8" stroke="#505050" stroke-width="2.2"/>
<rect x="985.8" y="719.6" width="4.8" height="4.8" fill="#fff" stroke="#8a8a8a" stroke-width="1.0"/>
<g transform="translate(1018.9,729.9) scale(0.974,1)"><text x="0.00" y="0.00" style="font-family:'Liberation Serif';font-size:22.00px;white-space:pre;fill:#1a1a1a">Temperature Gradient (</text><text x="207.67" y="0.00" style="font-family:'Liberation Serif';font-size:22.00px;white-space:pre;font-style:italic;fill:#1a1a1a">w</text><text x="222.34" y="0.00" style="font-family:'Liberation Serif';font-size:22.00px;white-space:pre;fill:#1a1a1a"> = 0.5 mm)</text></g>
<path d="M963.6 748.5H1012.8" stroke="#f04a4a" stroke-width="2.2"/>
<circle cx="988.2" cy="748.5" r="2.4" fill="#fff" stroke="#f25a5a" stroke-width="1.0"/>
<g transform="translate(1018.9,756.4) scale(0.974,1)"><text x="0.00" y="0.00" style="font-family:'Liberation Serif';font-size:22.00px;white-space:pre;fill:#1a1a1a">Temperature Gradient (</text><text x="207.67" y="0.00" style="font-family:'Liberation Serif';font-size:22.00px;white-space:pre;font-style:italic;fill:#1a1a1a">w</text><text x="222.34" y="0.00" style="font-family:'Liberation Serif';font-size:22.00px;white-space:pre;fill:#1a1a1a"> = 1 mm)</text></g>
<path d="M963.6 775.0H1012.8" stroke="#2468e0" stroke-width="2.2"/>
<path d="M988.2 772.6L990.6 776.9L985.8 776.9Z" fill="#fff" stroke="#3a7aee" stroke-width="1.0"/>
<g transform="translate(1018.9,782.9) scale(0.974,1)"><text x="0.00" y="0.00" style="font-family:'Liberation Serif';font-size:22.00px;white-space:pre;fill:#1a1a1a">Temperature Gradient (</text><text x="207.67" y="0.00" style="font-family:'Liberation Serif';font-size:22.00px;white-space:pre;font-style:italic;fill:#1a1a1a">w</text><text x="222.34" y="0.00" style="font-family:'Liberation Serif';font-size:22.00px;white-space:pre;fill:#1a1a1a"> = 2 mm)</text></g>
<path d="M963.6 801.5H1012.8" stroke="#24a05c" stroke-width="2.2"/>
<path d="M985.8 801.5L990.1 799.1L990.1 803.9Z" fill="#fff" stroke="#3aac6c" stroke-width="1.0"/>
<g transform="translate(1018.9,809.4) scale(0.974,1)"><text x="0.00" y="0.00" style="font-family:'Liberation Serif';font-size:22.00px;white-space:pre;fill:#1a1a1a">Temperature Gradient (</text><text x="207.67" y="0.00" style="font-family:'Liberation Serif';font-size:22.00px;white-space:pre;font-style:italic;fill:#1a1a1a">w</text><text x="222.34" y="0.00" style="font-family:'Liberation Serif';font-size:22.00px;white-space:pre;fill:#1a1a1a"> = 4 mm)</text></g>
<circle cx="988" cy="832.3" r="8.9" fill="none" stroke="#c83cf5" stroke-width="2.2"/>
<text x="1025.50" y="839.50" style="font-family:'Liberation Serif';font-size:22.00px;white-space:pre;font-style:italic;fill:#1a1a1a">θ</text>
<text x="1036.31" y="844.50" style="font-family:'Liberation Serif';font-size:15.00px;white-space:pre;fill:#1a1a1a">magic</text>
<text x="1072.96" y="839.50" style="font-family:'Liberation Serif';font-size:22.00px;white-space:pre;fill:#1a1a1a">= arcsin(</text>
<text x="1150.72" y="839.50" style="font-family:'Liberation Serif';font-size:22.00px;white-space:pre;font-style:italic;fill:#1a1a1a">πw</text>
<text x="1176.42" y="839.50" style="font-family:'Liberation Serif';font-size:22.00px;white-space:pre;fill:#1a1a1a">/</text>
<text x="1182.53" y="839.50" style="font-family:'Liberation Serif';font-size:22.00px;white-space:pre;font-style:italic;fill:#1a1a1a">2R</text>
<text x="1206.97" y="844.50" style="font-family:'Liberation Serif';font-size:15.00px;white-space:pre;fill:#1a1a1a">1</text>
<text x="1214.47" y="839.50" style="font-family:'Liberation Serif';font-size:22.00px;white-space:pre;fill:#1a1a1a">)</text>
<text x="1008.18" y="1167.80" style="font-family:'Liberation Serif';font-size:26.50px;white-space:pre;font-style:italic;fill:#111">Δ</text>
<text transform="translate(1024.76,1168.03) scale(1.2735,1)" style="stroke:#fff;stroke-width:0.35;font-family:'Liberation Serif';font-size:27.93px;white-space:pre;font-style:italic;fill:#111">θ</text>
<path d="M1046.4 1159.4h14.8M1046.4 1163.8h14.8" stroke="#111" stroke-width="1.5"/>
<text transform="translate(1067.70,1168.03) scale(1.1709,1)" style="stroke:#fff;stroke-width:0.35;font-family:'Liberation Serif';font-size:27.93px;white-space:pre;font-style:italic;fill:#111">θ</text>
<text x="1082.29" y="1173.30" style="font-family:'Liberation Serif';font-size:18.30px;white-space:pre;fill:#111">1</text>
<path d="M1094.7 1161.3h13.7" stroke="#111" stroke-width="1.5"/>
<text transform="translate(1114.91,1168.03) scale(1.1624,1)" style="stroke:#fff;stroke-width:0.35;font-family:'Liberation Serif';font-size:27.93px;white-space:pre;font-style:italic;fill:#111">θ</text>
<text x="1127.60" y="1173.30" style="font-family:'Liberation Serif';font-size:18.30px;white-space:pre;fill:#111">2</text>
<text x="1145.28" y="1167.20" style="font-family:'Liberation Serif';font-size:21.00px;white-space:pre;fill:#111">(</text>
<text x="1152.00" y="1164.30" style="font-family:'Liberation Serif';font-size:21.00px;white-space:pre;fill:#111">°</text>
<text x="1163.92" y="1167.20" style="font-family:'Liberation Serif';font-size:21.00px;white-space:pre;fill:#111">)</text>
<g transform="translate(802.8,979) rotate(-90) scale(0.94,1)"><text x="0.00" y="0.00" style="font-family:'Liberation Serif';font-size:28.00px;white-space:pre;font-style:italic;fill:#111">∂T</text><text x="29.41" y="0.00" style="font-family:'Liberation Serif';font-size:28.00px;white-space:pre;fill:#111">/</text><text x="37.19" y="0.00" style="font-family:'Liberation Serif';font-size:28.00px;white-space:pre;font-style:italic;fill:#111">∂x</text><text x="63.45" y="0.00" style="font-family:'Liberation Serif';font-size:28.00px;white-space:pre;fill:#111"> (K·cm</text><text x="143.53" y="-11.50" style="font-family:'Liberation Serif';font-size:17.00px;white-space:pre;fill:#111">-1</text><text x="157.69" y="0.00" style="font-family:'Liberation Serif';font-size:28.00px;white-space:pre;fill:#111">)</text></g>
</svg></body></html>
